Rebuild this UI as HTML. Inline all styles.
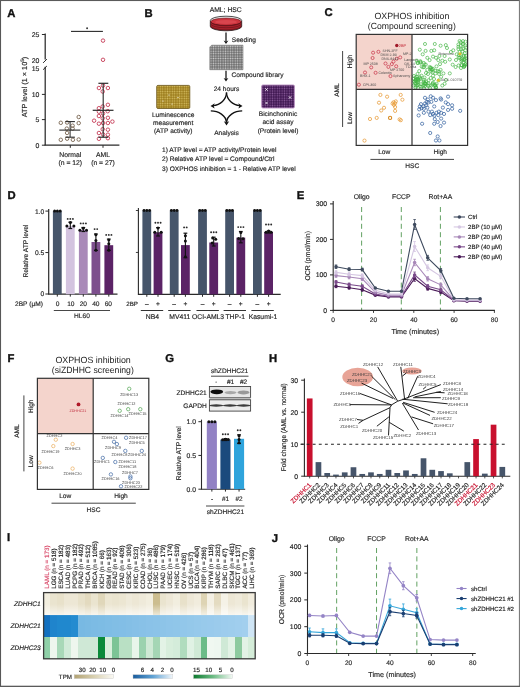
<!DOCTYPE html>
<html><head><meta charset="utf-8"><style>
html,body{margin:0;padding:0;background:#fff;}
svg{display:block;font-family:"Liberation Sans", sans-serif;will-change:transform;}
text{text-rendering:geometricPrecision;}
</style></head><body>
<svg width="520" height="687" viewBox="0 0 520 687">
<rect width="520" height="687" fill="#fff"/>
<text x="7.30" y="16.80" font-size="11.3" text-anchor="start" fill="#111" font-weight="bold" stroke="#111" stroke-width="0.35">A</text>
<line x1="45.20" y1="33.60" x2="45.20" y2="59.50" stroke="#2a2a2a" stroke-width="1.25"/>
<line x1="45.20" y1="66.80" x2="45.20" y2="145.20" stroke="#2a2a2a" stroke-width="1.25"/>
<line x1="43.10" y1="62.90" x2="46.90" y2="59.10" stroke="#2a2a2a" stroke-width="1.0"/>
<line x1="43.10" y1="69.70" x2="46.90" y2="66.00" stroke="#2a2a2a" stroke-width="1.0"/>
<line x1="41.90" y1="34.50" x2="45.20" y2="34.50" stroke="#2a2a2a" stroke-width="1.0"/>
<text x="39.30" y="36.90" font-size="6.9" text-anchor="end" fill="#262626" stroke="#262626" stroke-width="0.16">25</text>
<text x="39.30" y="63.20" font-size="6.9" text-anchor="end" fill="#262626" stroke="#262626" stroke-width="0.16">20</text>
<text x="39.30" y="71.10" font-size="6.9" text-anchor="end" fill="#262626" stroke="#262626" stroke-width="0.16">15</text>
<line x1="41.90" y1="94.40" x2="45.20" y2="94.40" stroke="#2a2a2a" stroke-width="1.0"/>
<text x="39.30" y="96.80" font-size="6.9" text-anchor="end" fill="#262626" stroke="#262626" stroke-width="0.16">10</text>
<line x1="41.90" y1="119.60" x2="45.20" y2="119.60" stroke="#2a2a2a" stroke-width="1.0"/>
<text x="39.30" y="122.00" font-size="6.9" text-anchor="end" fill="#262626" stroke="#262626" stroke-width="0.16">5</text>
<line x1="41.90" y1="145.20" x2="45.20" y2="145.20" stroke="#2a2a2a" stroke-width="1.0"/>
<text x="39.30" y="147.60" font-size="6.9" text-anchor="end" fill="#262626" stroke="#262626" stroke-width="0.16">0</text>
<line x1="44.60" y1="145.20" x2="119.40" y2="145.20" stroke="#2a2a2a" stroke-width="1.25"/>
<line x1="70.30" y1="145.20" x2="70.30" y2="147.80" stroke="#2a2a2a" stroke-width="1.0"/>
<line x1="103.00" y1="145.20" x2="103.00" y2="147.80" stroke="#2a2a2a" stroke-width="1.0"/>
<text x="70.30" y="157.30" font-size="6.8" text-anchor="middle" fill="#262626" stroke="#262626" stroke-width="0.16">Normal</text>
<text x="70.30" y="164.60" font-size="6.8" text-anchor="middle" fill="#262626" stroke="#262626" stroke-width="0.16">(n = 12)</text>
<text x="103.00" y="157.30" font-size="6.8" text-anchor="middle" fill="#262626" stroke="#262626" stroke-width="0.16">AML</text>
<text x="103.00" y="164.60" font-size="6.8" text-anchor="middle" fill="#262626" stroke="#262626" stroke-width="0.16">(n = 27)</text>
<text x="27.00" y="87.00" font-size="7.3" text-anchor="middle" fill="#262626" transform="rotate(-90 27.0 87.0)" stroke="#262626" stroke-width="0.16">ATP level (1 × 10<tspan font-size="4.8" dy="-2.8">5</tspan><tspan dy="2.8">)</tspan></text>
<line x1="71.00" y1="31.40" x2="102.90" y2="31.40" stroke="#2a2a2a" stroke-width="1.1"/>
<circle cx="87.10" cy="28.20" r="0.95" fill="#333" stroke="none" stroke-width="0.8"/>
<circle cx="78.70" cy="117.00" r="1.75" fill="none" stroke="#7e6c58" stroke-width="0.95"/>
<circle cx="60.80" cy="122.80" r="1.75" fill="none" stroke="#7e6c58" stroke-width="0.95"/>
<circle cx="78.70" cy="123.10" r="1.75" fill="none" stroke="#7e6c58" stroke-width="0.95"/>
<circle cx="67.10" cy="122.50" r="1.75" fill="none" stroke="#7e6c58" stroke-width="0.95"/>
<circle cx="72.60" cy="125.70" r="1.75" fill="none" stroke="#7e6c58" stroke-width="0.95"/>
<circle cx="66.80" cy="128.60" r="1.75" fill="none" stroke="#7e6c58" stroke-width="0.95"/>
<circle cx="72.60" cy="128.60" r="1.75" fill="none" stroke="#7e6c58" stroke-width="0.95"/>
<circle cx="67.10" cy="132.90" r="1.75" fill="none" stroke="#7e6c58" stroke-width="0.95"/>
<circle cx="60.80" cy="139.80" r="1.75" fill="none" stroke="#7e6c58" stroke-width="0.95"/>
<circle cx="67.10" cy="138.70" r="1.75" fill="none" stroke="#7e6c58" stroke-width="0.95"/>
<circle cx="72.90" cy="139.80" r="1.75" fill="none" stroke="#7e6c58" stroke-width="0.95"/>
<circle cx="78.70" cy="139.50" r="1.75" fill="none" stroke="#7e6c58" stroke-width="0.95"/>
<line x1="59.30" y1="130.10" x2="80.40" y2="130.10" stroke="#2a2a2a" stroke-width="1.1"/>
<line x1="70.10" y1="121.60" x2="70.10" y2="137.20" stroke="#2a2a2a" stroke-width="1"/>
<line x1="65.40" y1="121.60" x2="74.90" y2="121.60" stroke="#2a2a2a" stroke-width="1.1"/>
<line x1="65.40" y1="137.20" x2="74.90" y2="137.20" stroke="#2a2a2a" stroke-width="1.1"/>
<circle cx="103.00" cy="40.60" r="1.75" fill="none" stroke="#c8445e" stroke-width="0.95"/>
<circle cx="103.00" cy="59.80" r="1.75" fill="none" stroke="#c8445e" stroke-width="0.95"/>
<circle cx="98.90" cy="88.00" r="1.75" fill="none" stroke="#c8445e" stroke-width="0.95"/>
<circle cx="107.90" cy="88.00" r="1.75" fill="none" stroke="#c8445e" stroke-width="0.95"/>
<circle cx="103.00" cy="85.50" r="1.75" fill="none" stroke="#c8445e" stroke-width="0.95"/>
<circle cx="102.70" cy="91.50" r="1.75" fill="none" stroke="#c8445e" stroke-width="0.95"/>
<circle cx="107.90" cy="104.80" r="1.75" fill="none" stroke="#c8445e" stroke-width="0.95"/>
<circle cx="102.70" cy="106.50" r="1.75" fill="none" stroke="#c8445e" stroke-width="0.95"/>
<circle cx="98.90" cy="108.20" r="1.75" fill="none" stroke="#c8445e" stroke-width="0.95"/>
<circle cx="98.90" cy="111.70" r="1.75" fill="none" stroke="#c8445e" stroke-width="0.95"/>
<circle cx="107.70" cy="111.20" r="1.75" fill="none" stroke="#c8445e" stroke-width="0.95"/>
<circle cx="98.90" cy="116.00" r="1.75" fill="none" stroke="#c8445e" stroke-width="0.95"/>
<circle cx="102.70" cy="118.30" r="1.75" fill="none" stroke="#c8445e" stroke-width="0.95"/>
<circle cx="107.90" cy="117.80" r="1.75" fill="none" stroke="#c8445e" stroke-width="0.95"/>
<circle cx="94.10" cy="120.70" r="1.75" fill="none" stroke="#c8445e" stroke-width="0.95"/>
<circle cx="98.90" cy="123.70" r="1.75" fill="none" stroke="#c8445e" stroke-width="0.95"/>
<circle cx="103.10" cy="123.00" r="1.75" fill="none" stroke="#c8445e" stroke-width="0.95"/>
<circle cx="107.90" cy="123.00" r="1.75" fill="none" stroke="#c8445e" stroke-width="0.95"/>
<circle cx="112.40" cy="121.60" r="1.75" fill="none" stroke="#c8445e" stroke-width="0.95"/>
<circle cx="102.70" cy="129.20" r="1.75" fill="none" stroke="#c8445e" stroke-width="0.95"/>
<circle cx="107.90" cy="129.70" r="1.75" fill="none" stroke="#c8445e" stroke-width="0.95"/>
<circle cx="98.90" cy="133.00" r="1.75" fill="none" stroke="#c8445e" stroke-width="0.95"/>
<circle cx="103.10" cy="134.40" r="1.75" fill="none" stroke="#c8445e" stroke-width="0.95"/>
<circle cx="107.90" cy="134.70" r="1.75" fill="none" stroke="#c8445e" stroke-width="0.95"/>
<circle cx="98.90" cy="138.80" r="1.75" fill="none" stroke="#c8445e" stroke-width="0.95"/>
<circle cx="107.90" cy="138.20" r="1.75" fill="none" stroke="#c8445e" stroke-width="0.95"/>
<circle cx="103.00" cy="113.50" r="1.75" fill="none" stroke="#c8445e" stroke-width="0.95"/>
<line x1="92.70" y1="110.30" x2="113.50" y2="110.30" stroke="#2a2a2a" stroke-width="1.2"/>
<line x1="103.20" y1="83.30" x2="103.20" y2="137.20" stroke="#2a2a2a" stroke-width="1.1"/>
<line x1="98.40" y1="83.30" x2="108.30" y2="83.30" stroke="#2a2a2a" stroke-width="1.2"/>
<line x1="98.40" y1="137.20" x2="108.30" y2="137.20" stroke="#2a2a2a" stroke-width="1.2"/>
<text x="144.50" y="16.60" font-size="11.3" text-anchor="start" fill="#111" font-weight="bold" stroke="#111" stroke-width="0.35">B</text>
<text x="225.70" y="11.80" font-size="6.8" text-anchor="middle" fill="#262626" stroke="#262626" stroke-width="0.16">AML; HSC</text>
<path d="M210.3,21.2 L210.3,26.3 A15.7,4.5 0 0 0 241.7,26.3 L241.7,21.2 Z" fill="#a8222c" stroke="#222" stroke-width="0.8"/>
<ellipse cx="226" cy="20.5" rx="15.7" ry="4.3" fill="#f2f2f2" stroke="#222" stroke-width="0.8"/>
<ellipse cx="226" cy="21.7" rx="15.2" ry="3.7" fill="#cc343e" stroke="#4a0a10" stroke-width="0.5"/>
<ellipse cx="226" cy="21.9" rx="11" ry="2.0" fill="#dc4a52" opacity="0.8"/>
<path d="M210.6,21.8 A15.4,4.0 0 0 0 241.4,21.8" fill="none" stroke="#5a0c14" stroke-width="0.55"/>
<path d="M210.6,23.8 A15.4,4.0 0 0 0 241.4,23.8" fill="none" stroke="#5a0c14" stroke-width="0.55"/>
<path d="M210.6,25.8 A15.4,4.0 0 0 0 241.4,25.8" fill="none" stroke="#5a0c14" stroke-width="0.55"/>
<line x1="226.00" y1="32.40" x2="226.00" y2="41.50" stroke="#111" stroke-width="1.25"/>
<path d="M223.60,40.40 L226.00,41.40 L228.40,40.40 L226.00,44.00 Z" fill="#111"/>
<text x="231.80" y="41.80" font-size="6.6" text-anchor="start" fill="#262626" stroke="#262626" stroke-width="0.16">Seeding</text>
<defs><pattern id="dots" x="209.8" y="45.2" width="2.42" height="2.42" patternUnits="userSpaceOnUse"><rect width="2.42" height="2.42" fill="#6c6c6c"/><circle cx="1.21" cy="1.21" r="0.8" fill="#cfcfcf"/></pattern><pattern id="ydots" x="156.7" y="85.4" width="2.4" height="2.4" patternUnits="userSpaceOnUse"><rect width="2.4" height="2.4" fill="#9c7c1c"/><circle cx="1.2" cy="1.2" r="0.8" fill="#d6be62"/></pattern><pattern id="pdots" x="261.7" y="85" width="2.4" height="2.4" patternUnits="userSpaceOnUse"><rect width="2.4" height="2.4" fill="#3e1650"/><circle cx="1.2" cy="1.2" r="0.75" fill="#8a5a9a"/></pattern></defs>
<path d="M211.6,45.2 L243,45.2 L243,69.7 L209.8,69.7 L209.8,47 Z" fill="url(#dots)" stroke="#777" stroke-width="0.6"/>
<line x1="226.00" y1="70.80" x2="226.00" y2="79.00" stroke="#111" stroke-width="1.25"/>
<path d="M223.60,77.90 L226.00,78.90 L228.40,77.90 L226.00,81.50 Z" fill="#111"/>
<text x="231.50" y="77.20" font-size="6.6" text-anchor="start" fill="#262626" stroke="#262626" stroke-width="0.16">Compound library</text>
<text x="226.50" y="91.00" font-size="6.6" text-anchor="middle" fill="#262626" stroke="#262626" stroke-width="0.16">24 hours</text>
<rect x="156.7" y="85.4" width="33.1" height="23.1" rx="1.2" fill="url(#ydots)" stroke="#6a5418" stroke-width="0.8"/>
<circle cx="169.00" cy="95.00" r="0.6" fill="#fff" stroke="none" stroke-width="0.8"/>
<circle cx="178.00" cy="97.50" r="0.6" fill="#fff" stroke="none" stroke-width="0.8"/>
<circle cx="163.00" cy="101.00" r="0.6" fill="#fff" stroke="none" stroke-width="0.8"/>
<circle cx="172.00" cy="104.00" r="0.6" fill="#fff" stroke="none" stroke-width="0.8"/>
<text x="173.20" y="117.30" font-size="6.6" text-anchor="middle" fill="#262626" stroke="#262626" stroke-width="0.16">Luminescence</text>
<text x="173.20" y="125.00" font-size="6.6" text-anchor="middle" fill="#262626" stroke="#262626" stroke-width="0.16">measurement</text>
<text x="173.20" y="133.00" font-size="6.6" text-anchor="middle" fill="#262626" stroke="#262626" stroke-width="0.16">(ATP activity)</text>
<rect x="261.7" y="85" width="32.7" height="23" rx="1.2" fill="url(#pdots)" stroke="#b890c0" stroke-width="0.9"/>
<path d="M265.2,88.2 L267.8,90.8 M267.8,88.2 L265.2,90.8" stroke="#fff" stroke-width="0.7"/>
<path d="M288.7,96.2 L291.3,98.8 M291.3,96.2 L288.7,98.8" stroke="#fff" stroke-width="0.7"/>
<path d="M265.2,101.7 L267.8,104.3 M267.8,101.7 L265.2,104.3" stroke="#fff" stroke-width="0.7"/>
<text x="278.00" y="116.40" font-size="6.6" text-anchor="middle" fill="#262626" stroke="#262626" stroke-width="0.16">Bicinchoninic</text>
<text x="278.00" y="124.40" font-size="6.6" text-anchor="middle" fill="#262626" stroke="#262626" stroke-width="0.16">acid assay</text>
<text x="278.00" y="132.70" font-size="6.6" text-anchor="middle" fill="#262626" stroke="#262626" stroke-width="0.16">(Protein level)</text>
<path d="M226.5,92.6 C226.3,99.5 220.5,105.2 213,105.7" fill="none" stroke="#111" stroke-width="1.35"/>
<path d="M226.5,92.6 C226.7,99.5 232.5,105.2 240,105.7" fill="none" stroke="#111" stroke-width="1.35"/>
<path d="M210.8,110.9 C218.5,110.9 226.2,115.5 226.4,122.5" fill="none" stroke="#111" stroke-width="1.35"/>
<path d="M242.2,110.9 C234.5,110.9 226.8,115.5 226.6,122.5" fill="none" stroke="#111" stroke-width="1.35"/>
<path d="M210.5,106.0 L214.8,103.2 L213.6,105.8 L214.6,108.4 Z" fill="#111"/>
<path d="M242.5,106.0 L238.2,103.2 L239.4,105.8 L238.4,108.4 Z" fill="#111"/>
<path d="M226.5,125.6 L223.8,121.2 L226.5,122.4 L229.2,121.2 Z" fill="#111"/>
<text x="226.50" y="135.00" font-size="6.6" text-anchor="middle" fill="#262626" stroke="#262626" stroke-width="0.16">Analysis</text>
<text x="162.00" y="151.80" font-size="6.6" text-anchor="start" fill="#262626" stroke="#262626" stroke-width="0.16">1) ATP level = ATP activity/Protein level</text>
<text x="162.00" y="161.10" font-size="6.6" text-anchor="start" fill="#262626" stroke="#262626" stroke-width="0.16">2) Relative ATP level = Compound/Ctrl</text>
<text x="162.00" y="171.00" font-size="6.6" text-anchor="start" fill="#262626" stroke="#262626" stroke-width="0.16">3) OXPHOS inhibition = 1 - Relative ATP level</text>
<text x="324.60" y="16.40" font-size="11.3" text-anchor="start" fill="#111" font-weight="bold" stroke="#111" stroke-width="0.35">C</text>
<text x="411.90" y="18.70" font-size="9.0" text-anchor="middle" fill="#222" textLength="75" lengthAdjust="spacingAndGlyphs">OXPHOS inhibition</text>
<text x="411.80" y="28.90" font-size="9.0" text-anchor="middle" fill="#222" textLength="88" lengthAdjust="spacingAndGlyphs">(Compound screening)</text>
<rect x="356.20" y="34.40" width="55.80" height="55.00" fill="#f4d4cc"/>
<circle cx="373.10" cy="52.70" r="1.55" fill="none" stroke="#c8384c" stroke-width="0.75"/>
<circle cx="378.40" cy="51.80" r="1.55" fill="none" stroke="#c8384c" stroke-width="0.75"/>
<circle cx="372.60" cy="58.00" r="1.55" fill="none" stroke="#c8384c" stroke-width="0.75"/>
<circle cx="396.80" cy="58.70" r="1.55" fill="none" stroke="#c8384c" stroke-width="0.75"/>
<circle cx="400.20" cy="57.40" r="1.55" fill="none" stroke="#c8384c" stroke-width="0.75"/>
<circle cx="371.20" cy="67.40" r="1.55" fill="none" stroke="#c8384c" stroke-width="0.75"/>
<circle cx="391.80" cy="64.10" r="1.55" fill="none" stroke="#c8384c" stroke-width="0.75"/>
<circle cx="388.40" cy="66.90" r="1.55" fill="none" stroke="#c8384c" stroke-width="0.75"/>
<circle cx="396.20" cy="66.30" r="1.55" fill="none" stroke="#c8384c" stroke-width="0.75"/>
<circle cx="365.00" cy="72.50" r="1.55" fill="none" stroke="#c8384c" stroke-width="0.75"/>
<circle cx="375.60" cy="72.80" r="1.55" fill="none" stroke="#c8384c" stroke-width="0.75"/>
<circle cx="390.50" cy="76.10" r="1.55" fill="none" stroke="#c8384c" stroke-width="0.75"/>
<circle cx="358.90" cy="84.70" r="1.55" fill="none" stroke="#c8384c" stroke-width="0.75"/>
<circle cx="385.50" cy="63.50" r="1.55" fill="none" stroke="#c8384c" stroke-width="0.75"/>
<circle cx="393.50" cy="61.50" r="1.55" fill="none" stroke="#c8384c" stroke-width="0.75"/>
<circle cx="396.80" cy="45.50" r="1.7" fill="#a01828" stroke="none" stroke-width="0.8"/>
<text x="398.80" y="47.40" font-size="3.9" text-anchor="start" fill="#c02030">2BP</text>
<text x="382.50" y="52.00" font-size="3.6" text-anchor="start" fill="#484848">SHN-2FF</text>
<text x="380.50" y="56.30" font-size="3.6" text-anchor="start" fill="#484848">DKM 2-93</text>
<text x="381.50" y="60.30" font-size="3.6" text-anchor="start" fill="#484848">DNS-8441</text>
<text x="403.00" y="54.50" font-size="3.6" text-anchor="start" fill="#484848">MP-2</text>
<text x="363.50" y="64.50" font-size="3.6" text-anchor="start" fill="#484848">MP 2508</text>
<text x="404.30" y="61.00" font-size="3.6" text-anchor="start" fill="#484848">Lanperis</text>
<text x="404.30" y="64.50" font-size="3.6" text-anchor="start" fill="#484848">GK-14</text>
<text x="405.50" y="68.20" font-size="3.6" text-anchor="start" fill="#484848">TO-Ha</text>
<text x="390.00" y="71.00" font-size="3.6" text-anchor="start" fill="#484848">MP 2700</text>
<text x="360.00" y="77.00" font-size="3.6" text-anchor="start" fill="#484848">BHX-1</text>
<text x="378.50" y="74.20" font-size="3.6" text-anchor="start" fill="#484848">Colentin</text>
<text x="393.00" y="77.30" font-size="3.6" text-anchor="start" fill="#484848">Sphanomy</text>
<text x="363.00" y="86.40" font-size="3.6" text-anchor="start" fill="#484848">CPI-360</text>
<circle cx="425.00" cy="44.00" r="1.55" fill="none" stroke="#46b646" stroke-width="0.68"/>
<circle cx="434.80" cy="44.00" r="1.55" fill="none" stroke="#46b646" stroke-width="0.68"/>
<circle cx="440.60" cy="45.70" r="1.55" fill="none" stroke="#46b646" stroke-width="0.68"/>
<circle cx="445.80" cy="45.10" r="1.55" fill="none" stroke="#46b646" stroke-width="0.68"/>
<circle cx="447.00" cy="48.00" r="1.55" fill="none" stroke="#46b646" stroke-width="0.68"/>
<circle cx="419.80" cy="49.70" r="1.55" fill="none" stroke="#46b646" stroke-width="0.68"/>
<circle cx="425.60" cy="50.90" r="1.55" fill="none" stroke="#46b646" stroke-width="0.68"/>
<circle cx="431.30" cy="50.90" r="1.55" fill="none" stroke="#46b646" stroke-width="0.68"/>
<circle cx="434.20" cy="50.30" r="1.55" fill="none" stroke="#46b646" stroke-width="0.68"/>
<circle cx="422.70" cy="54.30" r="1.55" fill="none" stroke="#46b646" stroke-width="0.68"/>
<circle cx="427.30" cy="57.80" r="1.55" fill="none" stroke="#46b646" stroke-width="0.68"/>
<circle cx="429.60" cy="60.10" r="1.55" fill="none" stroke="#46b646" stroke-width="0.68"/>
<circle cx="416.90" cy="60.70" r="1.55" fill="none" stroke="#46b646" stroke-width="0.68"/>
<circle cx="420.40" cy="61.20" r="1.55" fill="none" stroke="#46b646" stroke-width="0.68"/>
<circle cx="423.80" cy="63.00" r="1.55" fill="none" stroke="#46b646" stroke-width="0.68"/>
<circle cx="433.00" cy="56.60" r="1.55" fill="none" stroke="#46b646" stroke-width="0.68"/>
<circle cx="436.00" cy="57.80" r="1.55" fill="none" stroke="#46b646" stroke-width="0.68"/>
<circle cx="439.40" cy="56.00" r="1.55" fill="none" stroke="#46b646" stroke-width="0.68"/>
<circle cx="444.60" cy="56.00" r="1.55" fill="none" stroke="#46b646" stroke-width="0.68"/>
<circle cx="438.30" cy="60.10" r="1.55" fill="none" stroke="#46b646" stroke-width="0.68"/>
<circle cx="442.30" cy="60.70" r="1.55" fill="none" stroke="#46b646" stroke-width="0.68"/>
<circle cx="445.20" cy="61.80" r="1.55" fill="none" stroke="#46b646" stroke-width="0.68"/>
<circle cx="449.80" cy="59.50" r="1.55" fill="none" stroke="#46b646" stroke-width="0.68"/>
<circle cx="450.90" cy="52.00" r="1.55" fill="none" stroke="#46b646" stroke-width="0.68"/>
<circle cx="452.70" cy="64.70" r="1.55" fill="none" stroke="#46b646" stroke-width="0.68"/>
<circle cx="455.60" cy="67.00" r="1.55" fill="none" stroke="#46b646" stroke-width="0.68"/>
<circle cx="440.00" cy="64.10" r="1.55" fill="none" stroke="#46b646" stroke-width="0.68"/>
<circle cx="436.50" cy="66.40" r="1.55" fill="none" stroke="#46b646" stroke-width="0.68"/>
<circle cx="433.00" cy="68.80" r="1.55" fill="none" stroke="#46b646" stroke-width="0.68"/>
<circle cx="429.60" cy="67.00" r="1.55" fill="none" stroke="#46b646" stroke-width="0.68"/>
<circle cx="427.30" cy="69.90" r="1.55" fill="none" stroke="#46b646" stroke-width="0.68"/>
<circle cx="449.80" cy="73.40" r="1.55" fill="none" stroke="#46b646" stroke-width="0.68"/>
<circle cx="419.20" cy="71.10" r="1.55" fill="none" stroke="#46b646" stroke-width="0.68"/>
<circle cx="421.50" cy="75.70" r="1.55" fill="none" stroke="#46b646" stroke-width="0.68"/>
<circle cx="416.90" cy="79.20" r="1.55" fill="none" stroke="#46b646" stroke-width="0.68"/>
<circle cx="414.60" cy="81.50" r="1.55" fill="none" stroke="#46b646" stroke-width="0.68"/>
<circle cx="418.00" cy="82.60" r="1.55" fill="none" stroke="#46b646" stroke-width="0.68"/>
<circle cx="421.00" cy="84.30" r="1.55" fill="none" stroke="#46b646" stroke-width="0.68"/>
<circle cx="423.80" cy="81.50" r="1.55" fill="none" stroke="#46b646" stroke-width="0.68"/>
<circle cx="426.10" cy="83.80" r="1.55" fill="none" stroke="#46b646" stroke-width="0.68"/>
<circle cx="428.50" cy="80.30" r="1.55" fill="none" stroke="#46b646" stroke-width="0.68"/>
<circle cx="430.70" cy="78.00" r="1.55" fill="none" stroke="#46b646" stroke-width="0.68"/>
<circle cx="433.00" cy="75.70" r="1.55" fill="none" stroke="#46b646" stroke-width="0.68"/>
<circle cx="435.40" cy="73.40" r="1.55" fill="none" stroke="#46b646" stroke-width="0.68"/>
<circle cx="437.70" cy="71.10" r="1.55" fill="none" stroke="#46b646" stroke-width="0.68"/>
<circle cx="440.60" cy="69.90" r="1.55" fill="none" stroke="#46b646" stroke-width="0.68"/>
<circle cx="443.40" cy="73.40" r="1.55" fill="none" stroke="#46b646" stroke-width="0.68"/>
<circle cx="441.10" cy="76.80" r="1.55" fill="none" stroke="#46b646" stroke-width="0.68"/>
<circle cx="438.80" cy="80.30" r="1.55" fill="none" stroke="#46b646" stroke-width="0.68"/>
<circle cx="436.50" cy="83.80" r="1.55" fill="none" stroke="#46b646" stroke-width="0.68"/>
<circle cx="433.00" cy="82.60" r="1.55" fill="none" stroke="#46b646" stroke-width="0.68"/>
<circle cx="431.30" cy="85.50" r="1.55" fill="none" stroke="#46b646" stroke-width="0.68"/>
<circle cx="428.50" cy="86.10" r="1.55" fill="none" stroke="#46b646" stroke-width="0.68"/>
<circle cx="425.00" cy="86.10" r="1.55" fill="none" stroke="#46b646" stroke-width="0.68"/>
<circle cx="421.50" cy="86.60" r="1.55" fill="none" stroke="#46b646" stroke-width="0.68"/>
<circle cx="416.90" cy="85.50" r="1.55" fill="none" stroke="#46b646" stroke-width="0.68"/>
<circle cx="442.30" cy="85.50" r="1.55" fill="none" stroke="#46b646" stroke-width="0.68"/>
<circle cx="444.60" cy="83.80" r="1.55" fill="none" stroke="#46b646" stroke-width="0.68"/>
<circle cx="414.00" cy="76.00" r="1.55" fill="none" stroke="#46b646" stroke-width="0.68"/>
<circle cx="417.50" cy="74.00" r="1.55" fill="none" stroke="#46b646" stroke-width="0.68"/>
<circle cx="420.00" cy="78.50" r="1.55" fill="none" stroke="#46b646" stroke-width="0.68"/>
<circle cx="424.50" cy="77.50" r="1.55" fill="none" stroke="#46b646" stroke-width="0.68"/>
<circle cx="428.00" cy="74.00" r="1.55" fill="none" stroke="#46b646" stroke-width="0.68"/>
<circle cx="431.00" cy="71.50" r="1.55" fill="none" stroke="#46b646" stroke-width="0.68"/>
<circle cx="413.50" cy="85.50" r="1.55" fill="none" stroke="#46b646" stroke-width="0.68"/>
<circle cx="426.00" cy="73.00" r="1.55" fill="none" stroke="#46b646" stroke-width="0.68"/>
<circle cx="434.00" cy="79.00" r="1.55" fill="none" stroke="#46b646" stroke-width="0.68"/>
<circle cx="446.00" cy="80.00" r="1.55" fill="none" stroke="#46b646" stroke-width="0.68"/>
<circle cx="424.00" cy="88.00" r="1.55" fill="none" stroke="#46b646" stroke-width="0.68"/>
<circle cx="418.00" cy="88.00" r="1.55" fill="none" stroke="#46b646" stroke-width="0.68"/>
<circle cx="430.00" cy="88.00" r="1.55" fill="none" stroke="#46b646" stroke-width="0.68"/>
<circle cx="436.00" cy="87.50" r="1.55" fill="none" stroke="#46b646" stroke-width="0.68"/>
<circle cx="458.40" cy="44.50" r="1.55" fill="none" stroke="#46b646" stroke-width="0.68"/>
<circle cx="460.70" cy="42.20" r="1.55" fill="none" stroke="#46b646" stroke-width="0.68"/>
<circle cx="463.00" cy="41.10" r="1.55" fill="none" stroke="#46b646" stroke-width="0.68"/>
<circle cx="465.40" cy="41.70" r="1.55" fill="none" stroke="#46b646" stroke-width="0.68"/>
<circle cx="458.40" cy="46.80" r="1.55" fill="none" stroke="#46b646" stroke-width="0.68"/>
<circle cx="460.70" cy="45.70" r="1.55" fill="none" stroke="#46b646" stroke-width="0.68"/>
<circle cx="463.00" cy="44.50" r="1.55" fill="none" stroke="#46b646" stroke-width="0.68"/>
<circle cx="465.40" cy="45.70" r="1.55" fill="none" stroke="#46b646" stroke-width="0.68"/>
<circle cx="458.40" cy="49.10" r="1.55" fill="none" stroke="#46b646" stroke-width="0.68"/>
<circle cx="461.30" cy="49.10" r="1.55" fill="none" stroke="#46b646" stroke-width="0.68"/>
<circle cx="463.00" cy="48.60" r="1.55" fill="none" stroke="#46b646" stroke-width="0.68"/>
<circle cx="465.40" cy="50.30" r="1.55" fill="none" stroke="#46b646" stroke-width="0.68"/>
<circle cx="459.60" cy="52.00" r="1.55" fill="none" stroke="#46b646" stroke-width="0.68"/>
<circle cx="462.40" cy="51.50" r="1.55" fill="none" stroke="#46b646" stroke-width="0.68"/>
<circle cx="464.80" cy="53.20" r="1.55" fill="none" stroke="#46b646" stroke-width="0.68"/>
<circle cx="460.70" cy="54.90" r="1.55" fill="none" stroke="#46b646" stroke-width="0.68"/>
<circle cx="463.60" cy="55.50" r="1.55" fill="none" stroke="#46b646" stroke-width="0.68"/>
<circle cx="465.90" cy="56.00" r="1.55" fill="none" stroke="#46b646" stroke-width="0.68"/>
<circle cx="459.60" cy="57.80" r="1.55" fill="none" stroke="#46b646" stroke-width="0.68"/>
<circle cx="462.40" cy="58.40" r="1.55" fill="none" stroke="#46b646" stroke-width="0.68"/>
<circle cx="464.80" cy="59.50" r="1.55" fill="none" stroke="#46b646" stroke-width="0.68"/>
<circle cx="461.30" cy="61.20" r="1.55" fill="none" stroke="#46b646" stroke-width="0.68"/>
<circle cx="463.60" cy="62.40" r="1.55" fill="none" stroke="#46b646" stroke-width="0.68"/>
<circle cx="465.40" cy="64.10" r="1.55" fill="none" stroke="#46b646" stroke-width="0.68"/>
<circle cx="461.90" cy="65.30" r="1.55" fill="none" stroke="#46b646" stroke-width="0.68"/>
<circle cx="464.20" cy="66.40" r="1.55" fill="none" stroke="#46b646" stroke-width="0.68"/>
<circle cx="453.30" cy="50.30" r="1.55" fill="none" stroke="#46b646" stroke-width="0.68"/>
<circle cx="456.70" cy="54.30" r="1.55" fill="none" stroke="#46b646" stroke-width="0.68"/>
<circle cx="456.00" cy="60.00" r="1.55" fill="none" stroke="#46b646" stroke-width="0.68"/>
<circle cx="466.00" cy="47.50" r="1.55" fill="none" stroke="#46b646" stroke-width="0.68"/>
<circle cx="466.00" cy="60.50" r="1.55" fill="none" stroke="#46b646" stroke-width="0.68"/>
<circle cx="423.68" cy="82.71" r="1.55" fill="none" stroke="#46b646" stroke-width="0.68"/>
<circle cx="424.93" cy="83.02" r="1.55" fill="none" stroke="#46b646" stroke-width="0.68"/>
<circle cx="417.65" cy="82.18" r="1.55" fill="none" stroke="#46b646" stroke-width="0.68"/>
<circle cx="427.67" cy="85.30" r="1.55" fill="none" stroke="#46b646" stroke-width="0.68"/>
<circle cx="415.62" cy="79.87" r="1.55" fill="none" stroke="#46b646" stroke-width="0.68"/>
<circle cx="415.54" cy="85.49" r="1.55" fill="none" stroke="#46b646" stroke-width="0.68"/>
<circle cx="435.60" cy="87.21" r="1.55" fill="none" stroke="#46b646" stroke-width="0.68"/>
<circle cx="428.21" cy="83.33" r="1.55" fill="none" stroke="#46b646" stroke-width="0.68"/>
<circle cx="417.04" cy="76.67" r="1.55" fill="none" stroke="#46b646" stroke-width="0.68"/>
<circle cx="417.78" cy="79.19" r="1.55" fill="none" stroke="#46b646" stroke-width="0.68"/>
<circle cx="414.18" cy="81.65" r="1.55" fill="none" stroke="#46b646" stroke-width="0.68"/>
<circle cx="423.41" cy="85.85" r="1.55" fill="none" stroke="#46b646" stroke-width="0.68"/>
<circle cx="425.18" cy="83.61" r="1.55" fill="none" stroke="#46b646" stroke-width="0.68"/>
<circle cx="424.74" cy="83.85" r="1.55" fill="none" stroke="#46b646" stroke-width="0.68"/>
<circle cx="423.79" cy="79.59" r="1.55" fill="none" stroke="#46b646" stroke-width="0.68"/>
<circle cx="435.95" cy="87.55" r="1.55" fill="none" stroke="#46b646" stroke-width="0.68"/>
<circle cx="432.40" cy="84.36" r="1.55" fill="none" stroke="#46b646" stroke-width="0.68"/>
<circle cx="420.59" cy="79.05" r="1.55" fill="none" stroke="#46b646" stroke-width="0.68"/>
<circle cx="420.00" cy="77.28" r="1.55" fill="none" stroke="#46b646" stroke-width="0.68"/>
<circle cx="435.06" cy="85.91" r="1.55" fill="none" stroke="#46b646" stroke-width="0.68"/>
<circle cx="413.51" cy="78.83" r="1.55" fill="none" stroke="#46b646" stroke-width="0.68"/>
<circle cx="415.14" cy="83.49" r="1.55" fill="none" stroke="#46b646" stroke-width="0.68"/>
<circle cx="415.46" cy="80.19" r="1.55" fill="none" stroke="#46b646" stroke-width="0.68"/>
<circle cx="435.19" cy="84.91" r="1.55" fill="none" stroke="#46b646" stroke-width="0.68"/>
<circle cx="416.15" cy="79.23" r="1.55" fill="none" stroke="#46b646" stroke-width="0.68"/>
<circle cx="415.77" cy="77.16" r="1.55" fill="none" stroke="#46b646" stroke-width="0.68"/>
<circle cx="426.08" cy="81.47" r="1.55" fill="none" stroke="#46b646" stroke-width="0.68"/>
<circle cx="417.79" cy="84.62" r="1.55" fill="none" stroke="#46b646" stroke-width="0.68"/>
<circle cx="416.45" cy="83.65" r="1.55" fill="none" stroke="#46b646" stroke-width="0.68"/>
<circle cx="416.12" cy="81.17" r="1.55" fill="none" stroke="#46b646" stroke-width="0.68"/>
<circle cx="418.29" cy="79.49" r="1.55" fill="none" stroke="#46b646" stroke-width="0.68"/>
<circle cx="435.35" cy="85.42" r="1.55" fill="none" stroke="#46b646" stroke-width="0.68"/>
<circle cx="420.34" cy="86.32" r="1.55" fill="none" stroke="#46b646" stroke-width="0.68"/>
<circle cx="418.24" cy="80.88" r="1.55" fill="none" stroke="#46b646" stroke-width="0.68"/>
<circle cx="432.72" cy="83.62" r="1.55" fill="none" stroke="#46b646" stroke-width="0.68"/>
<circle cx="415.76" cy="87.48" r="1.55" fill="none" stroke="#46b646" stroke-width="0.68"/>
<circle cx="421.72" cy="66.71" r="1.55" fill="none" stroke="#46b646" stroke-width="0.68"/>
<circle cx="424.42" cy="64.49" r="1.55" fill="none" stroke="#46b646" stroke-width="0.68"/>
<circle cx="420.31" cy="62.71" r="1.55" fill="none" stroke="#46b646" stroke-width="0.68"/>
<circle cx="430.72" cy="69.38" r="1.55" fill="none" stroke="#46b646" stroke-width="0.68"/>
<circle cx="439.04" cy="73.92" r="1.55" fill="none" stroke="#46b646" stroke-width="0.68"/>
<circle cx="435.79" cy="70.80" r="1.55" fill="none" stroke="#46b646" stroke-width="0.68"/>
<circle cx="439.26" cy="71.74" r="1.55" fill="none" stroke="#46b646" stroke-width="0.68"/>
<circle cx="423.13" cy="67.29" r="1.55" fill="none" stroke="#46b646" stroke-width="0.68"/>
<circle cx="424.13" cy="67.07" r="1.55" fill="none" stroke="#46b646" stroke-width="0.68"/>
<circle cx="430.96" cy="67.66" r="1.55" fill="none" stroke="#46b646" stroke-width="0.68"/>
<circle cx="420.70" cy="62.12" r="1.55" fill="none" stroke="#46b646" stroke-width="0.68"/>
<circle cx="432.53" cy="72.37" r="1.55" fill="none" stroke="#46b646" stroke-width="0.68"/>
<circle cx="430.30" cy="67.94" r="1.55" fill="none" stroke="#46b646" stroke-width="0.68"/>
<circle cx="432.12" cy="69.57" r="1.55" fill="none" stroke="#46b646" stroke-width="0.68"/>
<circle cx="431.72" cy="69.72" r="1.55" fill="none" stroke="#46b646" stroke-width="0.68"/>
<circle cx="425.83" cy="64.60" r="1.55" fill="none" stroke="#46b646" stroke-width="0.68"/>
<circle cx="417.44" cy="62.91" r="1.55" fill="none" stroke="#46b646" stroke-width="0.68"/>
<circle cx="418.04" cy="63.01" r="1.55" fill="none" stroke="#46b646" stroke-width="0.68"/>
<circle cx="462.96" cy="43.68" r="1.55" fill="none" stroke="#46b646" stroke-width="0.68"/>
<circle cx="461.32" cy="64.95" r="1.55" fill="none" stroke="#46b646" stroke-width="0.68"/>
<circle cx="466.15" cy="58.39" r="1.55" fill="none" stroke="#46b646" stroke-width="0.68"/>
<circle cx="463.89" cy="56.36" r="1.55" fill="none" stroke="#46b646" stroke-width="0.68"/>
<circle cx="459.59" cy="40.98" r="1.55" fill="none" stroke="#46b646" stroke-width="0.68"/>
<circle cx="458.64" cy="65.49" r="1.55" fill="none" stroke="#46b646" stroke-width="0.68"/>
<circle cx="463.97" cy="66.96" r="1.55" fill="none" stroke="#46b646" stroke-width="0.68"/>
<circle cx="458.67" cy="57.81" r="1.55" fill="none" stroke="#46b646" stroke-width="0.68"/>
<circle cx="462.26" cy="60.45" r="1.55" fill="none" stroke="#46b646" stroke-width="0.68"/>
<circle cx="460.99" cy="67.98" r="1.55" fill="none" stroke="#46b646" stroke-width="0.68"/>
<circle cx="459.09" cy="55.29" r="1.55" fill="none" stroke="#46b646" stroke-width="0.68"/>
<circle cx="464.25" cy="65.21" r="1.55" fill="none" stroke="#46b646" stroke-width="0.68"/>
<circle cx="464.25" cy="59.70" r="1.55" fill="none" stroke="#46b646" stroke-width="0.68"/>
<circle cx="464.69" cy="65.62" r="1.55" fill="none" stroke="#46b646" stroke-width="0.68"/>
<circle cx="461.24" cy="59.18" r="1.55" fill="none" stroke="#46b646" stroke-width="0.68"/>
<circle cx="465.53" cy="64.39" r="1.55" fill="none" stroke="#46b646" stroke-width="0.68"/>
<circle cx="460.00" cy="53.80" r="1.5" fill="#d8c030" stroke="none" stroke-width="0.8"/>
<circle cx="438.30" cy="80.30" r="1.5" fill="#d8c030" stroke="none" stroke-width="0.8"/>
<text x="438.50" y="55.00" font-size="3.6" text-anchor="start" fill="#555">Rotenone</text>
<text x="440.80" y="81.40" font-size="3.6" text-anchor="start" fill="#555">IACS-010759</text>
<circle cx="380.40" cy="94.90" r="1.6" fill="none" stroke="#e8a040" stroke-width="0.8"/>
<circle cx="387.10" cy="96.70" r="1.6" fill="none" stroke="#e8a040" stroke-width="0.8"/>
<circle cx="400.70" cy="94.90" r="1.6" fill="none" stroke="#e8a040" stroke-width="0.8"/>
<circle cx="402.40" cy="99.70" r="1.6" fill="none" stroke="#e8a040" stroke-width="0.8"/>
<circle cx="379.00" cy="102.70" r="1.6" fill="none" stroke="#e8a040" stroke-width="0.8"/>
<circle cx="393.50" cy="102.30" r="1.6" fill="none" stroke="#e8a040" stroke-width="0.8"/>
<circle cx="395.10" cy="103.20" r="1.6" fill="none" stroke="#e8a040" stroke-width="0.8"/>
<circle cx="394.00" cy="104.90" r="1.6" fill="none" stroke="#e8a040" stroke-width="0.8"/>
<circle cx="392.60" cy="103.60" r="1.6" fill="none" stroke="#e8a040" stroke-width="0.8"/>
<circle cx="395.80" cy="101.40" r="1.6" fill="none" stroke="#e8a040" stroke-width="0.8"/>
<circle cx="395.10" cy="107.00" r="1.6" fill="none" stroke="#e8a040" stroke-width="0.8"/>
<circle cx="384.00" cy="107.80" r="1.6" fill="none" stroke="#e8a040" stroke-width="0.8"/>
<circle cx="381.20" cy="110.50" r="1.6" fill="none" stroke="#e8a040" stroke-width="0.8"/>
<circle cx="395.10" cy="110.90" r="1.6" fill="none" stroke="#e8a040" stroke-width="0.8"/>
<circle cx="370.00" cy="119.00" r="1.6" fill="none" stroke="#e8a040" stroke-width="0.8"/>
<circle cx="376.70" cy="117.90" r="1.6" fill="none" stroke="#e8a040" stroke-width="0.8"/>
<circle cx="399.60" cy="119.40" r="1.6" fill="none" stroke="#e8a040" stroke-width="0.8"/>
<circle cx="400.80" cy="120.20" r="1.6" fill="none" stroke="#e8a040" stroke-width="0.8"/>
<circle cx="364.50" cy="140.60" r="1.6" fill="none" stroke="#e8a040" stroke-width="0.8"/>
<circle cx="390.10" cy="117.90" r="1.6" fill="none" stroke="#d88a20" stroke-width="1.1"/>
<circle cx="424.99" cy="97.80" r="1.6" fill="none" stroke="#3a66a2" stroke-width="0.75"/>
<circle cx="430.76" cy="96.30" r="1.6" fill="none" stroke="#3a66a2" stroke-width="0.75"/>
<circle cx="427.88" cy="99.53" r="1.6" fill="none" stroke="#3a66a2" stroke-width="0.75"/>
<circle cx="426.72" cy="101.84" r="1.6" fill="none" stroke="#3a66a2" stroke-width="0.75"/>
<circle cx="431.34" cy="101.84" r="1.6" fill="none" stroke="#3a66a2" stroke-width="0.75"/>
<circle cx="435.95" cy="100.11" r="1.6" fill="none" stroke="#3a66a2" stroke-width="0.75"/>
<circle cx="440.57" cy="98.38" r="1.6" fill="none" stroke="#3a66a2" stroke-width="0.75"/>
<circle cx="441.14" cy="99.53" r="1.6" fill="none" stroke="#3a66a2" stroke-width="0.75"/>
<circle cx="448.06" cy="96.65" r="1.6" fill="none" stroke="#3a66a2" stroke-width="0.75"/>
<circle cx="420.96" cy="104.15" r="1.6" fill="none" stroke="#3a66a2" stroke-width="0.75"/>
<circle cx="419.80" cy="106.45" r="1.6" fill="none" stroke="#3a66a2" stroke-width="0.75"/>
<circle cx="419.23" cy="109.34" r="1.6" fill="none" stroke="#3a66a2" stroke-width="0.75"/>
<circle cx="426.15" cy="105.30" r="1.6" fill="none" stroke="#3a66a2" stroke-width="0.75"/>
<circle cx="427.30" cy="107.61" r="1.6" fill="none" stroke="#3a66a2" stroke-width="0.75"/>
<circle cx="434.22" cy="106.45" r="1.6" fill="none" stroke="#3a66a2" stroke-width="0.75"/>
<circle cx="442.87" cy="107.61" r="1.6" fill="none" stroke="#3a66a2" stroke-width="0.75"/>
<circle cx="445.76" cy="102.42" r="1.6" fill="none" stroke="#3a66a2" stroke-width="0.75"/>
<circle cx="448.06" cy="104.15" r="1.6" fill="none" stroke="#3a66a2" stroke-width="0.75"/>
<circle cx="452.10" cy="105.30" r="1.6" fill="none" stroke="#3a66a2" stroke-width="0.75"/>
<circle cx="452.10" cy="108.76" r="1.6" fill="none" stroke="#3a66a2" stroke-width="0.75"/>
<circle cx="448.06" cy="109.91" r="1.6" fill="none" stroke="#3a66a2" stroke-width="0.75"/>
<circle cx="460.17" cy="110.84" r="1.6" fill="none" stroke="#3a66a2" stroke-width="0.75"/>
<circle cx="418.65" cy="115.45" r="1.6" fill="none" stroke="#3a66a2" stroke-width="0.75"/>
<circle cx="423.84" cy="112.80" r="1.6" fill="none" stroke="#3a66a2" stroke-width="0.75"/>
<circle cx="428.45" cy="111.64" r="1.6" fill="none" stroke="#3a66a2" stroke-width="0.75"/>
<circle cx="431.91" cy="111.64" r="1.6" fill="none" stroke="#3a66a2" stroke-width="0.75"/>
<circle cx="430.18" cy="115.10" r="1.6" fill="none" stroke="#3a66a2" stroke-width="0.75"/>
<circle cx="434.22" cy="115.68" r="1.6" fill="none" stroke="#3a66a2" stroke-width="0.75"/>
<circle cx="438.84" cy="111.64" r="1.6" fill="none" stroke="#3a66a2" stroke-width="0.75"/>
<circle cx="441.14" cy="112.80" r="1.6" fill="none" stroke="#3a66a2" stroke-width="0.75"/>
<circle cx="444.03" cy="113.95" r="1.6" fill="none" stroke="#3a66a2" stroke-width="0.75"/>
<circle cx="438.26" cy="115.10" r="1.6" fill="none" stroke="#3a66a2" stroke-width="0.75"/>
<circle cx="441.14" cy="118.57" r="1.6" fill="none" stroke="#3a66a2" stroke-width="0.75"/>
<circle cx="434.80" cy="119.14" r="1.6" fill="none" stroke="#3a66a2" stroke-width="0.75"/>
<circle cx="437.68" cy="122.03" r="1.6" fill="none" stroke="#3a66a2" stroke-width="0.75"/>
<circle cx="434.22" cy="123.76" r="1.6" fill="none" stroke="#3a66a2" stroke-width="0.75"/>
<circle cx="444.03" cy="122.60" r="1.6" fill="none" stroke="#3a66a2" stroke-width="0.75"/>
<circle cx="440.57" cy="126.06" r="1.6" fill="none" stroke="#3a66a2" stroke-width="0.75"/>
<circle cx="422.11" cy="123.76" r="1.6" fill="none" stroke="#3a66a2" stroke-width="0.75"/>
<circle cx="430.18" cy="132.98" r="1.6" fill="none" stroke="#3a66a2" stroke-width="0.75"/>
<circle cx="437.68" cy="136.44" r="1.6" fill="none" stroke="#3a66a2" stroke-width="0.75"/>
<circle cx="435.95" cy="140.48" r="1.6" fill="none" stroke="#3a66a2" stroke-width="0.75"/>
<circle cx="439.41" cy="140.48" r="1.6" fill="none" stroke="#3a66a2" stroke-width="0.75"/>
<circle cx="421.53" cy="108.18" r="1.6" fill="none" stroke="#3a66a2" stroke-width="0.75"/>
<circle cx="423.84" cy="108.76" r="1.6" fill="none" stroke="#3a66a2" stroke-width="0.75"/>
<circle cx="433.07" cy="97.80" r="1.6" fill="none" stroke="#3a66a2" stroke-width="0.75"/>
<circle cx="428.45" cy="102.42" r="1.6" fill="none" stroke="#3a66a2" stroke-width="0.75"/>
<circle cx="424.99" cy="103.57" r="1.6" fill="none" stroke="#3a66a2" stroke-width="0.75"/>
<circle cx="423.26" cy="106.45" r="1.6" fill="none" stroke="#3a66a2" stroke-width="0.75"/>
<circle cx="436.53" cy="112.80" r="1.6" fill="none" stroke="#3a66a2" stroke-width="0.75"/>
<circle cx="433.07" cy="113.95" r="1.6" fill="none" stroke="#3a66a2" stroke-width="0.75"/>
<rect x="356.2" y="34.4" width="111.40" height="111.00" fill="none" stroke="#333" stroke-width="1.2"/>
<line x1="412.00" y1="34.40" x2="412.00" y2="145.40" stroke="#333" stroke-width="1.2"/>
<line x1="356.20" y1="89.40" x2="467.60" y2="89.40" stroke="#333" stroke-width="1.2"/>
<line x1="342.60" y1="51.00" x2="342.60" y2="127.00" stroke="#444" stroke-width="1"/>
<text x="352.20" y="61.50" font-size="6.6" text-anchor="middle" fill="#262626" transform="rotate(-90 352.2 61.5)" stroke="#262626" stroke-width="0.16">High</text>
<text x="352.20" y="118.00" font-size="6.6" text-anchor="middle" fill="#262626" transform="rotate(-90 352.2 118)" stroke="#262626" stroke-width="0.16">Low</text>
<text x="338.60" y="90.00" font-size="6.6" text-anchor="middle" fill="#262626" transform="rotate(-90 338.6 90)" stroke="#262626" stroke-width="0.16">AML</text>
<text x="384.20" y="154.30" font-size="6.6" text-anchor="middle" fill="#262626" stroke="#262626" stroke-width="0.16">Low</text>
<text x="440.20" y="154.30" font-size="6.6" text-anchor="middle" fill="#262626" stroke="#262626" stroke-width="0.16">High</text>
<line x1="370.40" y1="159.40" x2="454.00" y2="159.40" stroke="#444" stroke-width="1"/>
<text x="412.20" y="167.50" font-size="6.6" text-anchor="middle" fill="#262626" stroke="#262626" stroke-width="0.16">HSC</text>
<text x="7.50" y="198.80" font-size="11.3" text-anchor="start" fill="#111" font-weight="bold" stroke="#111" stroke-width="0.35">D</text>
<line x1="48.70" y1="209.00" x2="48.70" y2="294.20" stroke="#2a2a2a" stroke-width="1.2"/>
<line x1="48.10" y1="294.20" x2="117.50" y2="294.20" stroke="#2a2a2a" stroke-width="1.2"/>
<line x1="45.40" y1="211.10" x2="48.70" y2="211.10" stroke="#2a2a2a" stroke-width="1.0"/>
<text x="44.20" y="213.50" font-size="6.7" text-anchor="end" fill="#262626" stroke="#262626" stroke-width="0.16">1.0</text>
<line x1="45.40" y1="252.55" x2="48.70" y2="252.55" stroke="#2a2a2a" stroke-width="1.0"/>
<text x="44.20" y="254.95" font-size="6.7" text-anchor="end" fill="#262626" stroke="#262626" stroke-width="0.16">0.5</text>
<line x1="45.40" y1="294.00" x2="48.70" y2="294.00" stroke="#2a2a2a" stroke-width="1.0"/>
<text x="44.20" y="296.40" font-size="6.7" text-anchor="end" fill="#262626" stroke="#262626" stroke-width="0.16">0</text>
<text x="27.60" y="251.10" font-size="6.9" text-anchor="middle" fill="#262626" transform="rotate(-90 27.6 251.1)" textLength="53" lengthAdjust="spacingAndGlyphs" stroke="#262626" stroke-width="0.16">Relative ATP level</text>
<rect x="52.90" y="211.10" width="8.80" height="83.10" fill="#46556a"/>
<circle cx="54.60" cy="211.10" r="1.5" fill="#111" stroke="none" stroke-width="0.8"/>
<circle cx="57.40" cy="211.10" r="1.5" fill="#111" stroke="none" stroke-width="0.8"/>
<circle cx="60.20" cy="211.10" r="1.5" fill="#111" stroke="none" stroke-width="0.8"/>
<line x1="57.30" y1="294.20" x2="57.30" y2="296.60" stroke="#2a2a2a" stroke-width="1.0"/>
<rect x="65.90" y="226.10" width="8.80" height="68.10" fill="#d3c3df"/>
<line x1="70.30" y1="222.20" x2="70.30" y2="228.50" stroke="#111" stroke-width="1.1"/>
<line x1="68.40" y1="222.20" x2="72.20" y2="222.20" stroke="#111" stroke-width="1.2"/>
<line x1="68.40" y1="228.50" x2="72.20" y2="228.50" stroke="#111" stroke-width="1.2"/>
<circle cx="66.90" cy="226.10" r="1.5" fill="#111" stroke="none" stroke-width="0.8"/>
<circle cx="70.40" cy="222.60" r="1.5" fill="#111" stroke="none" stroke-width="0.8"/>
<circle cx="73.90" cy="226.10" r="1.5" fill="#111" stroke="none" stroke-width="0.8"/>
<circle cx="67.70" cy="218.90" r="0.95" fill="#2a2a2a" stroke="none" stroke-width="0.8"/>
<circle cx="70.30" cy="218.90" r="0.95" fill="#2a2a2a" stroke="none" stroke-width="0.8"/>
<circle cx="72.90" cy="218.90" r="0.95" fill="#2a2a2a" stroke="none" stroke-width="0.8"/>
<line x1="70.30" y1="294.20" x2="70.30" y2="296.60" stroke="#2a2a2a" stroke-width="1.0"/>
<rect x="78.90" y="229.80" width="8.80" height="64.40" fill="#a98ab8"/>
<line x1="83.30" y1="227.50" x2="83.30" y2="231.50" stroke="#111" stroke-width="1.1"/>
<line x1="81.40" y1="227.50" x2="85.20" y2="227.50" stroke="#111" stroke-width="1.2"/>
<line x1="81.40" y1="231.50" x2="85.20" y2="231.50" stroke="#111" stroke-width="1.2"/>
<circle cx="79.90" cy="230.20" r="1.5" fill="#111" stroke="none" stroke-width="0.8"/>
<circle cx="83.20" cy="228.20" r="1.5" fill="#111" stroke="none" stroke-width="0.8"/>
<circle cx="86.50" cy="230.20" r="1.5" fill="#111" stroke="none" stroke-width="0.8"/>
<circle cx="80.70" cy="223.40" r="0.95" fill="#2a2a2a" stroke="none" stroke-width="0.8"/>
<circle cx="83.30" cy="223.40" r="0.95" fill="#2a2a2a" stroke="none" stroke-width="0.8"/>
<circle cx="85.90" cy="223.40" r="0.95" fill="#2a2a2a" stroke="none" stroke-width="0.8"/>
<line x1="83.30" y1="294.20" x2="83.30" y2="296.60" stroke="#2a2a2a" stroke-width="1.0"/>
<rect x="91.50" y="242.00" width="8.80" height="52.20" fill="#7d4f8d"/>
<line x1="95.90" y1="234.00" x2="95.90" y2="250.40" stroke="#111" stroke-width="1.1"/>
<line x1="94.00" y1="234.00" x2="97.80" y2="234.00" stroke="#111" stroke-width="1.2"/>
<line x1="94.00" y1="250.40" x2="97.80" y2="250.40" stroke="#111" stroke-width="1.2"/>
<circle cx="95.90" cy="234.80" r="1.5" fill="#111" stroke="none" stroke-width="0.8"/>
<circle cx="95.90" cy="240.40" r="1.5" fill="#111" stroke="none" stroke-width="0.8"/>
<circle cx="95.90" cy="250.20" r="1.5" fill="#111" stroke="none" stroke-width="0.8"/>
<circle cx="94.60" cy="229.10" r="0.95" fill="#2a2a2a" stroke="none" stroke-width="0.8"/>
<circle cx="97.20" cy="229.10" r="0.95" fill="#2a2a2a" stroke="none" stroke-width="0.8"/>
<line x1="95.90" y1="294.20" x2="95.90" y2="296.60" stroke="#2a2a2a" stroke-width="1.0"/>
<rect x="104.40" y="245.20" width="8.80" height="49.00" fill="#5b2366"/>
<line x1="108.80" y1="239.10" x2="108.80" y2="250.40" stroke="#111" stroke-width="1.1"/>
<line x1="106.90" y1="239.10" x2="110.70" y2="239.10" stroke="#111" stroke-width="1.2"/>
<line x1="106.90" y1="250.40" x2="110.70" y2="250.40" stroke="#111" stroke-width="1.2"/>
<circle cx="108.80" cy="239.90" r="1.5" fill="#111" stroke="none" stroke-width="0.8"/>
<circle cx="108.80" cy="243.80" r="1.5" fill="#111" stroke="none" stroke-width="0.8"/>
<circle cx="108.80" cy="250.20" r="1.5" fill="#111" stroke="none" stroke-width="0.8"/>
<circle cx="106.20" cy="234.90" r="0.95" fill="#2a2a2a" stroke="none" stroke-width="0.8"/>
<circle cx="108.80" cy="234.90" r="0.95" fill="#2a2a2a" stroke="none" stroke-width="0.8"/>
<circle cx="111.40" cy="234.90" r="0.95" fill="#2a2a2a" stroke="none" stroke-width="0.8"/>
<line x1="108.80" y1="294.20" x2="108.80" y2="296.60" stroke="#2a2a2a" stroke-width="1.0"/>
<text x="57.50" y="305.60" font-size="6.6" text-anchor="middle" fill="#262626" stroke="#262626" stroke-width="0.16">0</text>
<text x="70.80" y="305.60" font-size="6.6" text-anchor="middle" fill="#262626" stroke="#262626" stroke-width="0.16">10</text>
<text x="83.30" y="305.60" font-size="6.6" text-anchor="middle" fill="#262626" stroke="#262626" stroke-width="0.16">20</text>
<text x="95.80" y="305.60" font-size="6.6" text-anchor="middle" fill="#262626" stroke="#262626" stroke-width="0.16">40</text>
<text x="108.30" y="305.60" font-size="6.6" text-anchor="middle" fill="#262626" stroke="#262626" stroke-width="0.16">60</text>
<text x="42.90" y="305.90" font-size="6.6" text-anchor="end" fill="#262626" stroke="#262626" stroke-width="0.16">2BP (µM)</text>
<line x1="53.80" y1="310.50" x2="110.00" y2="310.50" stroke="#333" stroke-width="0.9"/>
<text x="82.00" y="318.20" font-size="6.6" text-anchor="middle" fill="#262626" stroke="#262626" stroke-width="0.16">HL60</text>
<line x1="138.40" y1="207.90" x2="138.40" y2="294.40" stroke="#2a2a2a" stroke-width="1.1"/>
<line x1="137.90" y1="294.40" x2="280.70" y2="294.40" stroke="#2a2a2a" stroke-width="1.1"/>
<line x1="135.90" y1="210.50" x2="138.40" y2="210.50" stroke="#2a2a2a" stroke-width="0.9"/>
<line x1="135.90" y1="252.45" x2="138.40" y2="252.45" stroke="#2a2a2a" stroke-width="0.9"/>
<rect x="142.40" y="210.50" width="8.80" height="83.90" fill="#46556a"/>
<circle cx="144.00" cy="210.50" r="1.45" fill="#111" stroke="none" stroke-width="0.8"/>
<circle cx="146.80" cy="210.50" r="1.45" fill="#111" stroke="none" stroke-width="0.8"/>
<circle cx="149.60" cy="210.50" r="1.45" fill="#111" stroke="none" stroke-width="0.8"/>
<rect x="153.60" y="232.30" width="8.80" height="62.10" fill="#5b2366"/>
<line x1="158.00" y1="227.60" x2="158.00" y2="236.00" stroke="#111" stroke-width="1.1"/>
<line x1="156.10" y1="227.60" x2="159.90" y2="227.60" stroke="#111" stroke-width="1.2"/>
<line x1="156.10" y1="236.00" x2="159.90" y2="236.00" stroke="#111" stroke-width="1.2"/>
<circle cx="154.80" cy="232.30" r="1.5" fill="#111" stroke="none" stroke-width="0.8"/>
<circle cx="158.00" cy="228.00" r="1.5" fill="#111" stroke="none" stroke-width="0.8"/>
<circle cx="161.20" cy="232.30" r="1.5" fill="#111" stroke="none" stroke-width="0.8"/>
<circle cx="155.40" cy="222.70" r="0.95" fill="#2a2a2a" stroke="none" stroke-width="0.8"/>
<circle cx="158.00" cy="222.70" r="0.95" fill="#2a2a2a" stroke="none" stroke-width="0.8"/>
<circle cx="160.60" cy="222.70" r="0.95" fill="#2a2a2a" stroke="none" stroke-width="0.8"/>
<line x1="146.80" y1="294.40" x2="146.80" y2="296.80" stroke="#2a2a2a" stroke-width="1.0"/>
<line x1="158.00" y1="294.40" x2="158.00" y2="296.80" stroke="#2a2a2a" stroke-width="1.0"/>
<text x="146.80" y="305.80" font-size="6.6" text-anchor="middle" fill="#262626" stroke="#262626" stroke-width="0.16">–</text>
<text x="158.00" y="305.80" font-size="6.6" text-anchor="middle" fill="#262626" stroke="#262626" stroke-width="0.16">+</text>
<line x1="140.80" y1="310.50" x2="163.20" y2="310.50" stroke="#333" stroke-width="1.0"/>
<text x="152.40" y="319.00" font-size="6.8" text-anchor="middle" fill="#262626" stroke="#262626" stroke-width="0.16">NB4</text>
<rect x="169.80" y="210.50" width="8.80" height="83.90" fill="#46556a"/>
<circle cx="171.40" cy="210.50" r="1.45" fill="#111" stroke="none" stroke-width="0.8"/>
<circle cx="174.20" cy="210.50" r="1.45" fill="#111" stroke="none" stroke-width="0.8"/>
<circle cx="177.00" cy="210.50" r="1.45" fill="#111" stroke="none" stroke-width="0.8"/>
<rect x="181.00" y="245.10" width="8.80" height="49.30" fill="#5b2366"/>
<line x1="185.40" y1="233.20" x2="185.40" y2="257.70" stroke="#111" stroke-width="1.1"/>
<line x1="183.50" y1="233.20" x2="187.30" y2="233.20" stroke="#111" stroke-width="1.2"/>
<line x1="183.50" y1="257.70" x2="187.30" y2="257.70" stroke="#111" stroke-width="1.2"/>
<circle cx="185.40" cy="235.80" r="1.5" fill="#111" stroke="none" stroke-width="0.8"/>
<circle cx="185.40" cy="241.00" r="1.5" fill="#111" stroke="none" stroke-width="0.8"/>
<circle cx="185.40" cy="256.80" r="1.5" fill="#111" stroke="none" stroke-width="0.8"/>
<circle cx="184.10" cy="227.40" r="0.95" fill="#2a2a2a" stroke="none" stroke-width="0.8"/>
<circle cx="186.70" cy="227.40" r="0.95" fill="#2a2a2a" stroke="none" stroke-width="0.8"/>
<line x1="174.20" y1="294.40" x2="174.20" y2="296.80" stroke="#2a2a2a" stroke-width="1.0"/>
<line x1="185.40" y1="294.40" x2="185.40" y2="296.80" stroke="#2a2a2a" stroke-width="1.0"/>
<text x="174.20" y="305.80" font-size="6.6" text-anchor="middle" fill="#262626" stroke="#262626" stroke-width="0.16">–</text>
<text x="185.40" y="305.80" font-size="6.6" text-anchor="middle" fill="#262626" stroke="#262626" stroke-width="0.16">+</text>
<line x1="168.20" y1="310.50" x2="190.60" y2="310.50" stroke="#333" stroke-width="1.0"/>
<text x="179.80" y="319.00" font-size="6.8" text-anchor="middle" fill="#262626" stroke="#262626" stroke-width="0.16">MV411</text>
<rect x="198.10" y="210.50" width="8.80" height="83.90" fill="#46556a"/>
<circle cx="199.70" cy="210.50" r="1.45" fill="#111" stroke="none" stroke-width="0.8"/>
<circle cx="202.50" cy="210.50" r="1.45" fill="#111" stroke="none" stroke-width="0.8"/>
<circle cx="205.30" cy="210.50" r="1.45" fill="#111" stroke="none" stroke-width="0.8"/>
<rect x="209.30" y="242.50" width="8.80" height="51.90" fill="#5b2366"/>
<line x1="213.70" y1="237.20" x2="213.70" y2="246.00" stroke="#111" stroke-width="1.1"/>
<line x1="211.80" y1="237.20" x2="215.60" y2="237.20" stroke="#111" stroke-width="1.2"/>
<line x1="211.80" y1="246.00" x2="215.60" y2="246.00" stroke="#111" stroke-width="1.2"/>
<circle cx="212.70" cy="238.10" r="1.5" fill="#111" stroke="none" stroke-width="0.8"/>
<circle cx="215.70" cy="239.30" r="1.5" fill="#111" stroke="none" stroke-width="0.8"/>
<circle cx="212.20" cy="243.00" r="1.5" fill="#111" stroke="none" stroke-width="0.8"/>
<circle cx="211.10" cy="232.30" r="0.95" fill="#2a2a2a" stroke="none" stroke-width="0.8"/>
<circle cx="213.70" cy="232.30" r="0.95" fill="#2a2a2a" stroke="none" stroke-width="0.8"/>
<circle cx="216.30" cy="232.30" r="0.95" fill="#2a2a2a" stroke="none" stroke-width="0.8"/>
<line x1="202.50" y1="294.40" x2="202.50" y2="296.80" stroke="#2a2a2a" stroke-width="1.0"/>
<line x1="213.70" y1="294.40" x2="213.70" y2="296.80" stroke="#2a2a2a" stroke-width="1.0"/>
<text x="202.50" y="305.80" font-size="6.6" text-anchor="middle" fill="#262626" stroke="#262626" stroke-width="0.16">–</text>
<text x="213.70" y="305.80" font-size="6.6" text-anchor="middle" fill="#262626" stroke="#262626" stroke-width="0.16">+</text>
<line x1="196.50" y1="310.50" x2="218.90" y2="310.50" stroke="#333" stroke-width="1.0"/>
<text x="208.10" y="319.00" font-size="6.8" text-anchor="middle" fill="#262626" stroke="#262626" stroke-width="0.16">OCI-AML3</text>
<rect x="225.20" y="210.50" width="8.80" height="83.90" fill="#46556a"/>
<circle cx="226.80" cy="210.50" r="1.45" fill="#111" stroke="none" stroke-width="0.8"/>
<circle cx="229.60" cy="210.50" r="1.45" fill="#111" stroke="none" stroke-width="0.8"/>
<circle cx="232.40" cy="210.50" r="1.45" fill="#111" stroke="none" stroke-width="0.8"/>
<rect x="236.40" y="237.60" width="8.80" height="56.80" fill="#5b2366"/>
<line x1="240.80" y1="231.50" x2="240.80" y2="242.80" stroke="#111" stroke-width="1.1"/>
<line x1="238.90" y1="231.50" x2="242.70" y2="231.50" stroke="#111" stroke-width="1.2"/>
<line x1="238.90" y1="242.80" x2="242.70" y2="242.80" stroke="#111" stroke-width="1.2"/>
<circle cx="240.80" cy="232.50" r="1.5" fill="#111" stroke="none" stroke-width="0.8"/>
<circle cx="238.60" cy="238.50" r="1.5" fill="#111" stroke="none" stroke-width="0.8"/>
<circle cx="243.00" cy="238.80" r="1.5" fill="#111" stroke="none" stroke-width="0.8"/>
<circle cx="238.20" cy="227.10" r="0.95" fill="#2a2a2a" stroke="none" stroke-width="0.8"/>
<circle cx="240.80" cy="227.10" r="0.95" fill="#2a2a2a" stroke="none" stroke-width="0.8"/>
<circle cx="243.40" cy="227.10" r="0.95" fill="#2a2a2a" stroke="none" stroke-width="0.8"/>
<line x1="229.60" y1="294.40" x2="229.60" y2="296.80" stroke="#2a2a2a" stroke-width="1.0"/>
<line x1="240.80" y1="294.40" x2="240.80" y2="296.80" stroke="#2a2a2a" stroke-width="1.0"/>
<text x="229.60" y="305.80" font-size="6.6" text-anchor="middle" fill="#262626" stroke="#262626" stroke-width="0.16">–</text>
<text x="240.80" y="305.80" font-size="6.6" text-anchor="middle" fill="#262626" stroke="#262626" stroke-width="0.16">+</text>
<line x1="223.60" y1="310.50" x2="246.00" y2="310.50" stroke="#333" stroke-width="1.0"/>
<text x="235.20" y="319.00" font-size="6.8" text-anchor="middle" fill="#262626" stroke="#262626" stroke-width="0.16">THP-1</text>
<rect x="253.00" y="210.50" width="8.80" height="83.90" fill="#46556a"/>
<circle cx="254.60" cy="210.50" r="1.45" fill="#111" stroke="none" stroke-width="0.8"/>
<circle cx="257.40" cy="210.50" r="1.45" fill="#111" stroke="none" stroke-width="0.8"/>
<circle cx="260.20" cy="210.50" r="1.45" fill="#111" stroke="none" stroke-width="0.8"/>
<rect x="264.20" y="232.00" width="8.80" height="62.40" fill="#5b2366"/>
<line x1="268.60" y1="231.00" x2="268.60" y2="233.00" stroke="#111" stroke-width="1.1"/>
<line x1="266.70" y1="231.00" x2="270.50" y2="231.00" stroke="#111" stroke-width="1.2"/>
<line x1="266.70" y1="233.00" x2="270.50" y2="233.00" stroke="#111" stroke-width="1.2"/>
<circle cx="266.00" cy="232.20" r="1.5" fill="#111" stroke="none" stroke-width="0.8"/>
<circle cx="268.60" cy="231.10" r="1.5" fill="#111" stroke="none" stroke-width="0.8"/>
<circle cx="271.20" cy="232.30" r="1.5" fill="#111" stroke="none" stroke-width="0.8"/>
<circle cx="266.00" cy="224.50" r="0.95" fill="#2a2a2a" stroke="none" stroke-width="0.8"/>
<circle cx="268.60" cy="224.50" r="0.95" fill="#2a2a2a" stroke="none" stroke-width="0.8"/>
<circle cx="271.20" cy="224.50" r="0.95" fill="#2a2a2a" stroke="none" stroke-width="0.8"/>
<line x1="257.40" y1="294.40" x2="257.40" y2="296.80" stroke="#2a2a2a" stroke-width="1.0"/>
<line x1="268.60" y1="294.40" x2="268.60" y2="296.80" stroke="#2a2a2a" stroke-width="1.0"/>
<text x="257.40" y="305.80" font-size="6.6" text-anchor="middle" fill="#262626" stroke="#262626" stroke-width="0.16">–</text>
<text x="268.60" y="305.80" font-size="6.6" text-anchor="middle" fill="#262626" stroke="#262626" stroke-width="0.16">+</text>
<line x1="251.40" y1="310.50" x2="273.80" y2="310.50" stroke="#333" stroke-width="1.0"/>
<text x="263.00" y="319.00" font-size="6.8" text-anchor="middle" fill="#262626" stroke="#262626" stroke-width="0.16">Kasumi-1</text>
<text x="138.00" y="305.80" font-size="6.2" text-anchor="end" fill="#262626" stroke="#262626" stroke-width="0.16">2BP</text>
<text x="296.80" y="199.20" font-size="11.3" text-anchor="start" fill="#111" font-weight="bold" stroke="#111" stroke-width="0.35">E</text>
<line x1="361.61" y1="207.00" x2="361.61" y2="310.40" stroke="#5a9c5a" stroke-width="0.95" stroke-dasharray="5,3.4"/>
<text x="361.61" y="199.00" font-size="6.8" text-anchor="middle" fill="#262626" stroke="#262626" stroke-width="0.16">Oligo</text>
<line x1="401.31" y1="207.00" x2="401.31" y2="310.40" stroke="#5a9c5a" stroke-width="0.95" stroke-dasharray="5,3.4"/>
<text x="401.31" y="199.00" font-size="6.8" text-anchor="middle" fill="#262626" stroke="#262626" stroke-width="0.16">FCCP</text>
<line x1="440.40" y1="207.00" x2="440.40" y2="310.40" stroke="#5a9c5a" stroke-width="0.95" stroke-dasharray="5,3.4"/>
<text x="440.40" y="199.00" font-size="6.8" text-anchor="middle" fill="#262626" stroke="#262626" stroke-width="0.16">Rot+AA</text>
<line x1="333.20" y1="201.00" x2="333.20" y2="310.90" stroke="#2a2a2a" stroke-width="1.1"/>
<line x1="332.70" y1="310.40" x2="494.90" y2="310.40" stroke="#2a2a2a" stroke-width="1.1"/>
<line x1="330.00" y1="310.40" x2="333.20" y2="310.40" stroke="#2a2a2a" stroke-width="1.0"/>
<text x="327.20" y="312.80" font-size="6.9" text-anchor="end" fill="#262626" stroke="#262626" stroke-width="0.16">0</text>
<line x1="330.00" y1="274.90" x2="333.20" y2="274.90" stroke="#2a2a2a" stroke-width="1.0"/>
<text x="327.20" y="277.30" font-size="6.9" text-anchor="end" fill="#262626" stroke="#262626" stroke-width="0.16">100</text>
<line x1="330.00" y1="239.40" x2="333.20" y2="239.40" stroke="#2a2a2a" stroke-width="1.0"/>
<text x="327.20" y="241.80" font-size="6.9" text-anchor="end" fill="#262626" stroke="#262626" stroke-width="0.16">200</text>
<line x1="330.00" y1="203.90" x2="333.20" y2="203.90" stroke="#2a2a2a" stroke-width="1.0"/>
<text x="327.20" y="206.30" font-size="6.9" text-anchor="end" fill="#262626" stroke="#262626" stroke-width="0.16">300</text>
<line x1="333.20" y1="310.40" x2="333.20" y2="312.90" stroke="#2a2a2a" stroke-width="0.9"/>
<text x="333.20" y="322.30" font-size="6.6" text-anchor="middle" fill="#262626" stroke="#262626" stroke-width="0.16">0</text>
<line x1="373.50" y1="310.40" x2="373.50" y2="312.90" stroke="#2a2a2a" stroke-width="0.9"/>
<text x="373.50" y="322.30" font-size="6.6" text-anchor="middle" fill="#262626" stroke="#262626" stroke-width="0.16">20</text>
<line x1="413.80" y1="310.40" x2="413.80" y2="312.90" stroke="#2a2a2a" stroke-width="0.9"/>
<text x="413.80" y="322.30" font-size="6.6" text-anchor="middle" fill="#262626" stroke="#262626" stroke-width="0.16">40</text>
<line x1="454.10" y1="310.40" x2="454.10" y2="312.90" stroke="#2a2a2a" stroke-width="0.9"/>
<text x="454.10" y="322.30" font-size="6.6" text-anchor="middle" fill="#262626" stroke="#262626" stroke-width="0.16">60</text>
<line x1="494.40" y1="310.40" x2="494.40" y2="312.90" stroke="#2a2a2a" stroke-width="0.9"/>
<text x="494.40" y="322.30" font-size="6.6" text-anchor="middle" fill="#262626" stroke="#262626" stroke-width="0.16">80</text>
<text x="415.21" y="334.00" font-size="7.2" text-anchor="middle" fill="#262626" stroke="#262626" stroke-width="0.16">Time (minutes)</text>
<text x="310.00" y="255.80" font-size="7.0" text-anchor="middle" fill="#262626" transform="rotate(-90 310.0 255.8)" textLength="49.5" lengthAdjust="spacingAndGlyphs" stroke="#262626" stroke-width="0.16">OCR (pmol/min)</text>
<polyline points="336.02,286.26 349.12,287.68 362.22,289.81 375.31,295.13 388.41,296.91 401.51,296.91 414.61,278.45 427.70,288.39 440.80,291.94 453.90,300.81 467.00,301.17 480.09,301.17" fill="none" stroke="#4a1a58" stroke-width="1.1"/>
<line x1="336.02" y1="284.84" x2="336.02" y2="287.68" stroke="#4a1a58" stroke-width="0.8"/>
<line x1="334.72" y1="284.84" x2="337.32" y2="284.84" stroke="#4a1a58" stroke-width="0.8"/>
<line x1="334.72" y1="287.68" x2="337.32" y2="287.68" stroke="#4a1a58" stroke-width="0.8"/>
<circle cx="336.02" cy="286.26" r="1.75" fill="#4a1a58" stroke="none" stroke-width="0.8"/>
<line x1="349.12" y1="286.26" x2="349.12" y2="289.10" stroke="#4a1a58" stroke-width="0.8"/>
<line x1="347.82" y1="286.26" x2="350.42" y2="286.26" stroke="#4a1a58" stroke-width="0.8"/>
<line x1="347.82" y1="289.10" x2="350.42" y2="289.10" stroke="#4a1a58" stroke-width="0.8"/>
<circle cx="349.12" cy="287.68" r="1.75" fill="#4a1a58" stroke="none" stroke-width="0.8"/>
<line x1="362.22" y1="288.39" x2="362.22" y2="291.23" stroke="#4a1a58" stroke-width="0.8"/>
<line x1="360.92" y1="288.39" x2="363.52" y2="288.39" stroke="#4a1a58" stroke-width="0.8"/>
<line x1="360.92" y1="291.23" x2="363.52" y2="291.23" stroke="#4a1a58" stroke-width="0.8"/>
<circle cx="362.22" cy="289.81" r="1.75" fill="#4a1a58" stroke="none" stroke-width="0.8"/>
<circle cx="375.31" cy="295.13" r="1.75" fill="#4a1a58" stroke="none" stroke-width="0.8"/>
<circle cx="388.41" cy="296.91" r="1.75" fill="#4a1a58" stroke="none" stroke-width="0.8"/>
<circle cx="401.51" cy="296.91" r="1.75" fill="#4a1a58" stroke="none" stroke-width="0.8"/>
<line x1="414.61" y1="275.61" x2="414.61" y2="281.29" stroke="#4a1a58" stroke-width="0.8"/>
<line x1="413.31" y1="275.61" x2="415.91" y2="275.61" stroke="#4a1a58" stroke-width="0.8"/>
<line x1="413.31" y1="281.29" x2="415.91" y2="281.29" stroke="#4a1a58" stroke-width="0.8"/>
<circle cx="414.61" cy="278.45" r="1.75" fill="#4a1a58" stroke="none" stroke-width="0.8"/>
<line x1="427.70" y1="286.61" x2="427.70" y2="290.16" stroke="#4a1a58" stroke-width="0.8"/>
<line x1="426.40" y1="286.61" x2="429.00" y2="286.61" stroke="#4a1a58" stroke-width="0.8"/>
<line x1="426.40" y1="290.16" x2="429.00" y2="290.16" stroke="#4a1a58" stroke-width="0.8"/>
<circle cx="427.70" cy="288.39" r="1.75" fill="#4a1a58" stroke="none" stroke-width="0.8"/>
<line x1="440.80" y1="290.16" x2="440.80" y2="293.71" stroke="#4a1a58" stroke-width="0.8"/>
<line x1="439.50" y1="290.16" x2="442.10" y2="290.16" stroke="#4a1a58" stroke-width="0.8"/>
<line x1="439.50" y1="293.71" x2="442.10" y2="293.71" stroke="#4a1a58" stroke-width="0.8"/>
<circle cx="440.80" cy="291.94" r="1.75" fill="#4a1a58" stroke="none" stroke-width="0.8"/>
<circle cx="453.90" cy="300.81" r="1.75" fill="#4a1a58" stroke="none" stroke-width="0.8"/>
<circle cx="467.00" cy="301.17" r="1.75" fill="#4a1a58" stroke="none" stroke-width="0.8"/>
<circle cx="480.09" cy="301.17" r="1.75" fill="#4a1a58" stroke="none" stroke-width="0.8"/>
<polyline points="336.02,282.00 349.12,284.48 362.22,286.26 375.31,294.07 388.41,296.20 401.51,296.20 414.61,274.90 427.70,286.26 440.80,289.81 453.90,300.46 467.00,300.81 480.09,300.81" fill="none" stroke="#7a4a8a" stroke-width="1.1"/>
<line x1="336.02" y1="280.58" x2="336.02" y2="283.42" stroke="#7a4a8a" stroke-width="0.8"/>
<line x1="334.72" y1="280.58" x2="337.32" y2="280.58" stroke="#7a4a8a" stroke-width="0.8"/>
<line x1="334.72" y1="283.42" x2="337.32" y2="283.42" stroke="#7a4a8a" stroke-width="0.8"/>
<circle cx="336.02" cy="282.00" r="1.75" fill="#7a4a8a" stroke="none" stroke-width="0.8"/>
<line x1="349.12" y1="283.06" x2="349.12" y2="285.90" stroke="#7a4a8a" stroke-width="0.8"/>
<line x1="347.82" y1="283.06" x2="350.42" y2="283.06" stroke="#7a4a8a" stroke-width="0.8"/>
<line x1="347.82" y1="285.90" x2="350.42" y2="285.90" stroke="#7a4a8a" stroke-width="0.8"/>
<circle cx="349.12" cy="284.48" r="1.75" fill="#7a4a8a" stroke="none" stroke-width="0.8"/>
<line x1="362.22" y1="284.84" x2="362.22" y2="287.68" stroke="#7a4a8a" stroke-width="0.8"/>
<line x1="360.92" y1="284.84" x2="363.52" y2="284.84" stroke="#7a4a8a" stroke-width="0.8"/>
<line x1="360.92" y1="287.68" x2="363.52" y2="287.68" stroke="#7a4a8a" stroke-width="0.8"/>
<circle cx="362.22" cy="286.26" r="1.75" fill="#7a4a8a" stroke="none" stroke-width="0.8"/>
<circle cx="375.31" cy="294.07" r="1.75" fill="#7a4a8a" stroke="none" stroke-width="0.8"/>
<circle cx="388.41" cy="296.20" r="1.75" fill="#7a4a8a" stroke="none" stroke-width="0.8"/>
<circle cx="401.51" cy="296.20" r="1.75" fill="#7a4a8a" stroke="none" stroke-width="0.8"/>
<line x1="414.61" y1="272.06" x2="414.61" y2="277.74" stroke="#7a4a8a" stroke-width="0.8"/>
<line x1="413.31" y1="272.06" x2="415.91" y2="272.06" stroke="#7a4a8a" stroke-width="0.8"/>
<line x1="413.31" y1="277.74" x2="415.91" y2="277.74" stroke="#7a4a8a" stroke-width="0.8"/>
<circle cx="414.61" cy="274.90" r="1.75" fill="#7a4a8a" stroke="none" stroke-width="0.8"/>
<line x1="427.70" y1="284.48" x2="427.70" y2="288.03" stroke="#7a4a8a" stroke-width="0.8"/>
<line x1="426.40" y1="284.48" x2="429.00" y2="284.48" stroke="#7a4a8a" stroke-width="0.8"/>
<line x1="426.40" y1="288.03" x2="429.00" y2="288.03" stroke="#7a4a8a" stroke-width="0.8"/>
<circle cx="427.70" cy="286.26" r="1.75" fill="#7a4a8a" stroke="none" stroke-width="0.8"/>
<line x1="440.80" y1="288.03" x2="440.80" y2="291.58" stroke="#7a4a8a" stroke-width="0.8"/>
<line x1="439.50" y1="288.03" x2="442.10" y2="288.03" stroke="#7a4a8a" stroke-width="0.8"/>
<line x1="439.50" y1="291.58" x2="442.10" y2="291.58" stroke="#7a4a8a" stroke-width="0.8"/>
<circle cx="440.80" cy="289.81" r="1.75" fill="#7a4a8a" stroke="none" stroke-width="0.8"/>
<circle cx="453.90" cy="300.46" r="1.75" fill="#7a4a8a" stroke="none" stroke-width="0.8"/>
<circle cx="467.00" cy="300.81" r="1.75" fill="#7a4a8a" stroke="none" stroke-width="0.8"/>
<circle cx="480.09" cy="300.81" r="1.75" fill="#7a4a8a" stroke="none" stroke-width="0.8"/>
<polyline points="336.02,275.61 349.12,277.03 362.22,278.80 375.31,292.29 388.41,295.13 401.51,295.13 414.61,262.47 427.70,278.80 440.80,284.84 453.90,300.10 467.00,300.46 480.09,300.46" fill="none" stroke="#a888b8" stroke-width="1.1"/>
<line x1="336.02" y1="273.83" x2="336.02" y2="277.38" stroke="#a888b8" stroke-width="0.8"/>
<line x1="334.72" y1="273.83" x2="337.32" y2="273.83" stroke="#a888b8" stroke-width="0.8"/>
<line x1="334.72" y1="277.38" x2="337.32" y2="277.38" stroke="#a888b8" stroke-width="0.8"/>
<circle cx="336.02" cy="275.61" r="1.75" fill="#a888b8" stroke="none" stroke-width="0.8"/>
<line x1="349.12" y1="275.25" x2="349.12" y2="278.80" stroke="#a888b8" stroke-width="0.8"/>
<line x1="347.82" y1="275.25" x2="350.42" y2="275.25" stroke="#a888b8" stroke-width="0.8"/>
<line x1="347.82" y1="278.80" x2="350.42" y2="278.80" stroke="#a888b8" stroke-width="0.8"/>
<circle cx="349.12" cy="277.03" r="1.75" fill="#a888b8" stroke="none" stroke-width="0.8"/>
<line x1="362.22" y1="277.03" x2="362.22" y2="280.58" stroke="#a888b8" stroke-width="0.8"/>
<line x1="360.92" y1="277.03" x2="363.52" y2="277.03" stroke="#a888b8" stroke-width="0.8"/>
<line x1="360.92" y1="280.58" x2="363.52" y2="280.58" stroke="#a888b8" stroke-width="0.8"/>
<circle cx="362.22" cy="278.80" r="1.75" fill="#a888b8" stroke="none" stroke-width="0.8"/>
<circle cx="375.31" cy="292.29" r="1.75" fill="#a888b8" stroke="none" stroke-width="0.8"/>
<circle cx="388.41" cy="295.13" r="1.75" fill="#a888b8" stroke="none" stroke-width="0.8"/>
<circle cx="401.51" cy="295.13" r="1.75" fill="#a888b8" stroke="none" stroke-width="0.8"/>
<line x1="414.61" y1="259.28" x2="414.61" y2="265.67" stroke="#a888b8" stroke-width="0.8"/>
<line x1="413.31" y1="259.28" x2="415.91" y2="259.28" stroke="#a888b8" stroke-width="0.8"/>
<line x1="413.31" y1="265.67" x2="415.91" y2="265.67" stroke="#a888b8" stroke-width="0.8"/>
<circle cx="414.61" cy="262.47" r="1.75" fill="#a888b8" stroke="none" stroke-width="0.8"/>
<line x1="427.70" y1="276.67" x2="427.70" y2="280.94" stroke="#a888b8" stroke-width="0.8"/>
<line x1="426.40" y1="276.67" x2="429.00" y2="276.67" stroke="#a888b8" stroke-width="0.8"/>
<line x1="426.40" y1="280.94" x2="429.00" y2="280.94" stroke="#a888b8" stroke-width="0.8"/>
<circle cx="427.70" cy="278.80" r="1.75" fill="#a888b8" stroke="none" stroke-width="0.8"/>
<line x1="440.80" y1="283.06" x2="440.80" y2="286.61" stroke="#a888b8" stroke-width="0.8"/>
<line x1="439.50" y1="283.06" x2="442.10" y2="283.06" stroke="#a888b8" stroke-width="0.8"/>
<line x1="439.50" y1="286.61" x2="442.10" y2="286.61" stroke="#a888b8" stroke-width="0.8"/>
<circle cx="440.80" cy="284.84" r="1.75" fill="#a888b8" stroke="none" stroke-width="0.8"/>
<circle cx="453.90" cy="300.10" r="1.75" fill="#a888b8" stroke="none" stroke-width="0.8"/>
<circle cx="467.00" cy="300.46" r="1.75" fill="#a888b8" stroke="none" stroke-width="0.8"/>
<circle cx="480.09" cy="300.46" r="1.75" fill="#a888b8" stroke="none" stroke-width="0.8"/>
<polyline points="336.02,272.41 349.12,274.19 362.22,275.61 375.31,290.16 388.41,293.71 401.51,294.07 414.61,246.50 427.70,267.80 440.80,276.32 453.90,299.75 467.00,300.10 480.09,300.10" fill="none" stroke="#d5c7e2" stroke-width="1.1"/>
<line x1="336.02" y1="270.64" x2="336.02" y2="274.19" stroke="#d5c7e2" stroke-width="0.8"/>
<line x1="334.72" y1="270.64" x2="337.32" y2="270.64" stroke="#d5c7e2" stroke-width="0.8"/>
<line x1="334.72" y1="274.19" x2="337.32" y2="274.19" stroke="#d5c7e2" stroke-width="0.8"/>
<circle cx="336.02" cy="272.41" r="1.75" fill="#d5c7e2" stroke="none" stroke-width="0.8"/>
<line x1="349.12" y1="272.41" x2="349.12" y2="275.96" stroke="#d5c7e2" stroke-width="0.8"/>
<line x1="347.82" y1="272.41" x2="350.42" y2="272.41" stroke="#d5c7e2" stroke-width="0.8"/>
<line x1="347.82" y1="275.96" x2="350.42" y2="275.96" stroke="#d5c7e2" stroke-width="0.8"/>
<circle cx="349.12" cy="274.19" r="1.75" fill="#d5c7e2" stroke="none" stroke-width="0.8"/>
<line x1="362.22" y1="273.83" x2="362.22" y2="277.38" stroke="#d5c7e2" stroke-width="0.8"/>
<line x1="360.92" y1="273.83" x2="363.52" y2="273.83" stroke="#d5c7e2" stroke-width="0.8"/>
<line x1="360.92" y1="277.38" x2="363.52" y2="277.38" stroke="#d5c7e2" stroke-width="0.8"/>
<circle cx="362.22" cy="275.61" r="1.75" fill="#d5c7e2" stroke="none" stroke-width="0.8"/>
<circle cx="375.31" cy="290.16" r="1.75" fill="#d5c7e2" stroke="none" stroke-width="0.8"/>
<circle cx="388.41" cy="293.71" r="1.75" fill="#d5c7e2" stroke="none" stroke-width="0.8"/>
<circle cx="401.51" cy="294.07" r="1.75" fill="#d5c7e2" stroke="none" stroke-width="0.8"/>
<line x1="414.61" y1="241.53" x2="414.61" y2="251.47" stroke="#d5c7e2" stroke-width="0.8"/>
<line x1="413.31" y1="241.53" x2="415.91" y2="241.53" stroke="#d5c7e2" stroke-width="0.8"/>
<line x1="413.31" y1="251.47" x2="415.91" y2="251.47" stroke="#d5c7e2" stroke-width="0.8"/>
<circle cx="414.61" cy="246.50" r="1.75" fill="#d5c7e2" stroke="none" stroke-width="0.8"/>
<line x1="427.70" y1="264.96" x2="427.70" y2="270.64" stroke="#d5c7e2" stroke-width="0.8"/>
<line x1="426.40" y1="264.96" x2="429.00" y2="264.96" stroke="#d5c7e2" stroke-width="0.8"/>
<line x1="426.40" y1="270.64" x2="429.00" y2="270.64" stroke="#d5c7e2" stroke-width="0.8"/>
<circle cx="427.70" cy="267.80" r="1.75" fill="#d5c7e2" stroke="none" stroke-width="0.8"/>
<line x1="440.80" y1="274.19" x2="440.80" y2="278.45" stroke="#d5c7e2" stroke-width="0.8"/>
<line x1="439.50" y1="274.19" x2="442.10" y2="274.19" stroke="#d5c7e2" stroke-width="0.8"/>
<line x1="439.50" y1="278.45" x2="442.10" y2="278.45" stroke="#d5c7e2" stroke-width="0.8"/>
<circle cx="440.80" cy="276.32" r="1.75" fill="#d5c7e2" stroke="none" stroke-width="0.8"/>
<circle cx="453.90" cy="299.75" r="1.75" fill="#d5c7e2" stroke="none" stroke-width="0.8"/>
<circle cx="467.00" cy="300.10" r="1.75" fill="#d5c7e2" stroke="none" stroke-width="0.8"/>
<circle cx="480.09" cy="300.10" r="1.75" fill="#d5c7e2" stroke="none" stroke-width="0.8"/>
<polyline points="336.02,266.73 349.12,269.22 362.22,269.57 375.31,288.03 388.41,291.23 401.51,291.23 414.61,224.49 427.70,257.86 440.80,270.64 453.90,298.33 467.00,298.69 480.09,298.69" fill="none" stroke="#3e4a5e" stroke-width="1.1"/>
<line x1="336.02" y1="264.96" x2="336.02" y2="268.51" stroke="#3e4a5e" stroke-width="0.8"/>
<line x1="334.72" y1="264.96" x2="337.32" y2="264.96" stroke="#3e4a5e" stroke-width="0.8"/>
<line x1="334.72" y1="268.51" x2="337.32" y2="268.51" stroke="#3e4a5e" stroke-width="0.8"/>
<circle cx="336.02" cy="266.73" r="1.75" fill="#3e4a5e" stroke="none" stroke-width="0.8"/>
<line x1="349.12" y1="267.80" x2="349.12" y2="270.64" stroke="#3e4a5e" stroke-width="0.8"/>
<line x1="347.82" y1="267.80" x2="350.42" y2="267.80" stroke="#3e4a5e" stroke-width="0.8"/>
<line x1="347.82" y1="270.64" x2="350.42" y2="270.64" stroke="#3e4a5e" stroke-width="0.8"/>
<circle cx="349.12" cy="269.22" r="1.75" fill="#3e4a5e" stroke="none" stroke-width="0.8"/>
<line x1="362.22" y1="268.15" x2="362.22" y2="271.00" stroke="#3e4a5e" stroke-width="0.8"/>
<line x1="360.92" y1="268.15" x2="363.52" y2="268.15" stroke="#3e4a5e" stroke-width="0.8"/>
<line x1="360.92" y1="271.00" x2="363.52" y2="271.00" stroke="#3e4a5e" stroke-width="0.8"/>
<circle cx="362.22" cy="269.57" r="1.75" fill="#3e4a5e" stroke="none" stroke-width="0.8"/>
<circle cx="375.31" cy="288.03" r="1.75" fill="#3e4a5e" stroke="none" stroke-width="0.8"/>
<circle cx="388.41" cy="291.23" r="1.75" fill="#3e4a5e" stroke="none" stroke-width="0.8"/>
<circle cx="401.51" cy="291.23" r="1.75" fill="#3e4a5e" stroke="none" stroke-width="0.8"/>
<line x1="414.61" y1="219.52" x2="414.61" y2="229.46" stroke="#3e4a5e" stroke-width="0.8"/>
<line x1="413.31" y1="219.52" x2="415.91" y2="219.52" stroke="#3e4a5e" stroke-width="0.8"/>
<line x1="413.31" y1="229.46" x2="415.91" y2="229.46" stroke="#3e4a5e" stroke-width="0.8"/>
<circle cx="414.61" cy="224.49" r="1.75" fill="#3e4a5e" stroke="none" stroke-width="0.8"/>
<line x1="427.70" y1="255.37" x2="427.70" y2="260.34" stroke="#3e4a5e" stroke-width="0.8"/>
<line x1="426.40" y1="255.37" x2="429.00" y2="255.37" stroke="#3e4a5e" stroke-width="0.8"/>
<line x1="426.40" y1="260.34" x2="429.00" y2="260.34" stroke="#3e4a5e" stroke-width="0.8"/>
<circle cx="427.70" cy="257.86" r="1.75" fill="#3e4a5e" stroke="none" stroke-width="0.8"/>
<line x1="440.80" y1="268.51" x2="440.80" y2="272.77" stroke="#3e4a5e" stroke-width="0.8"/>
<line x1="439.50" y1="268.51" x2="442.10" y2="268.51" stroke="#3e4a5e" stroke-width="0.8"/>
<line x1="439.50" y1="272.77" x2="442.10" y2="272.77" stroke="#3e4a5e" stroke-width="0.8"/>
<circle cx="440.80" cy="270.64" r="1.75" fill="#3e4a5e" stroke="none" stroke-width="0.8"/>
<circle cx="453.90" cy="298.33" r="1.75" fill="#3e4a5e" stroke="none" stroke-width="0.8"/>
<circle cx="467.00" cy="298.69" r="1.75" fill="#3e4a5e" stroke="none" stroke-width="0.8"/>
<circle cx="480.09" cy="298.69" r="1.75" fill="#3e4a5e" stroke="none" stroke-width="0.8"/>
<line x1="453.70" y1="217.00" x2="465.00" y2="217.00" stroke="#3e4a5e" stroke-width="1.1"/>
<circle cx="459.40" cy="217.00" r="1.75" fill="#3e4a5e" stroke="none" stroke-width="0.8"/>
<text x="468.00" y="219.20" font-size="6.1" text-anchor="start" fill="#262626" stroke="#262626" stroke-width="0.16">Ctrl</text>
<line x1="453.70" y1="226.95" x2="465.00" y2="226.95" stroke="#d5c7e2" stroke-width="1.1"/>
<circle cx="459.40" cy="226.95" r="1.75" fill="#d5c7e2" stroke="none" stroke-width="0.8"/>
<text x="468.00" y="229.15" font-size="6.1" text-anchor="start" fill="#262626" stroke="#262626" stroke-width="0.16">2BP (10 µM)</text>
<line x1="453.70" y1="236.90" x2="465.00" y2="236.90" stroke="#a888b8" stroke-width="1.1"/>
<circle cx="459.40" cy="236.90" r="1.75" fill="#a888b8" stroke="none" stroke-width="0.8"/>
<text x="468.00" y="239.10" font-size="6.1" text-anchor="start" fill="#262626" stroke="#262626" stroke-width="0.16">2BP (20 µM)</text>
<line x1="453.70" y1="246.85" x2="465.00" y2="246.85" stroke="#7a4a8a" stroke-width="1.1"/>
<circle cx="459.40" cy="246.85" r="1.75" fill="#7a4a8a" stroke="none" stroke-width="0.8"/>
<text x="468.00" y="249.05" font-size="6.1" text-anchor="start" fill="#262626" stroke="#262626" stroke-width="0.16">2BP (40 µM)</text>
<line x1="453.70" y1="256.80" x2="465.00" y2="256.80" stroke="#4a1a58" stroke-width="1.1"/>
<circle cx="459.40" cy="256.80" r="1.75" fill="#4a1a58" stroke="none" stroke-width="0.8"/>
<text x="468.00" y="259.00" font-size="6.1" text-anchor="start" fill="#262626" stroke="#262626" stroke-width="0.16">2BP (60 µM)</text>
<text x="7.50" y="362.30" font-size="11.3" text-anchor="start" fill="#111" font-weight="bold" stroke="#111" stroke-width="0.35">F</text>
<text x="93.10" y="362.60" font-size="9.0" text-anchor="middle" fill="#222" textLength="75.4" lengthAdjust="spacingAndGlyphs">OXPHOS inhibition</text>
<text x="92.80" y="372.80" font-size="9.0" text-anchor="middle" fill="#222" textLength="82" lengthAdjust="spacingAndGlyphs">(siZDHHC screening)</text>
<rect x="37.40" y="378.30" width="55.80" height="55.30" fill="#f4d4cc"/>
<circle cx="78.50" cy="404.40" r="1.9" fill="#b01828" stroke="none" stroke-width="0.8"/>
<text x="77.90" y="412.20" font-size="3.7" text-anchor="middle" fill="#c03040">ZDHHC21</text>
<circle cx="129.20" cy="388.80" r="1.7" fill="none" stroke="#5aa85a" stroke-width="0.75"/>
<circle cx="128.20" cy="409.20" r="1.7" fill="none" stroke="#5aa85a" stroke-width="0.75"/>
<circle cx="119.70" cy="410.80" r="1.7" fill="none" stroke="#5aa85a" stroke-width="0.75"/>
<circle cx="140.30" cy="409.20" r="1.7" fill="none" stroke="#5aa85a" stroke-width="0.75"/>
<text x="129.20" y="395.50" font-size="3.9" text-anchor="middle" fill="#444">ZDHHC13</text>
<text x="126.50" y="405.30" font-size="3.9" text-anchor="middle" fill="#444">ZDHHC12</text>
<text x="119.50" y="417.00" font-size="3.9" text-anchor="middle" fill="#444">ZDHHC14</text>
<text x="137.50" y="415.00" font-size="3.9" text-anchor="middle" fill="#444">ZDHHC15</text>
<circle cx="55.80" cy="439.70" r="1.7" fill="none" stroke="#ebb266" stroke-width="0.75"/>
<circle cx="53.30" cy="446.10" r="1.7" fill="none" stroke="#ebb266" stroke-width="0.75"/>
<circle cx="72.60" cy="444.00" r="1.7" fill="none" stroke="#ebb266" stroke-width="0.75"/>
<circle cx="39.40" cy="462.70" r="1.7" fill="none" stroke="#ebb266" stroke-width="0.75"/>
<circle cx="72.60" cy="468.60" r="1.7" fill="none" stroke="#ebb266" stroke-width="0.75"/>
<text x="54.50" y="437.30" font-size="3.9" text-anchor="middle" fill="#444">ZDHHC2</text>
<text x="50.50" y="452.60" font-size="3.9" text-anchor="middle" fill="#444">ZDHHC19</text>
<text x="72.60" y="450.20" font-size="3.9" text-anchor="middle" fill="#444">ZDHHC3</text>
<text x="45.50" y="469.00" font-size="3.9" text-anchor="middle" fill="#444">ZDHHC6</text>
<text x="72.60" y="474.80" font-size="3.9" text-anchor="middle" fill="#444">ZDHHC20</text>
<circle cx="126.10" cy="437.80" r="1.7" fill="none" stroke="#4a70a8" stroke-width="0.75"/>
<circle cx="114.00" cy="441.80" r="1.7" fill="none" stroke="#4a70a8" stroke-width="0.75"/>
<circle cx="116.90" cy="444.10" r="1.7" fill="none" stroke="#4a70a8" stroke-width="0.75"/>
<circle cx="125.30" cy="450.90" r="1.7" fill="none" stroke="#4a70a8" stroke-width="0.75"/>
<circle cx="141.80" cy="450.90" r="1.7" fill="none" stroke="#4a70a8" stroke-width="0.75"/>
<circle cx="102.80" cy="457.90" r="1.7" fill="none" stroke="#4a70a8" stroke-width="0.75"/>
<circle cx="115.30" cy="462.00" r="1.7" fill="none" stroke="#4a70a8" stroke-width="0.75"/>
<circle cx="110.90" cy="474.40" r="1.7" fill="none" stroke="#4a70a8" stroke-width="0.75"/>
<circle cx="130.40" cy="476.50" r="1.7" fill="none" stroke="#4a70a8" stroke-width="0.75"/>
<circle cx="130.40" cy="478.20" r="1.7" fill="none" stroke="#4a70a8" stroke-width="0.75"/>
<circle cx="121.00" cy="486.30" r="1.7" fill="none" stroke="#4a70a8" stroke-width="0.75"/>
<text x="129.00" y="439.20" font-size="3.9" text-anchor="start" fill="#444">ZDHHC17</text>
<text x="129.00" y="443.60" font-size="3.9" text-anchor="start" fill="#444">ZDHHC5</text>
<text x="109.50" y="439.20" font-size="3.9" text-anchor="middle" fill="#444">ZDHHC4</text>
<text x="113.00" y="448.50" font-size="3.9" text-anchor="middle" fill="#444">ZDHHC9</text>
<text x="119.50" y="455.60" font-size="3.9" text-anchor="middle" fill="#444">ZDHHC8</text>
<text x="137.00" y="455.60" font-size="3.9" text-anchor="middle" fill="#444">ZDHHC24</text>
<text x="102.00" y="463.00" font-size="3.9" text-anchor="middle" fill="#444">ZDHHC1</text>
<text x="118.50" y="463.30" font-size="3.9" text-anchor="start" fill="#444">ZDHHC11</text>
<text x="118.50" y="467.60" font-size="3.9" text-anchor="start" fill="#444">ZDHHC18</text>
<text x="110.50" y="480.00" font-size="3.9" text-anchor="middle" fill="#444">ZDHHC16</text>
<text x="130.00" y="474.30" font-size="3.9" text-anchor="middle" fill="#444">ZDHHC7</text>
<text x="131.00" y="483.50" font-size="3.9" text-anchor="middle" fill="#444">ZDHHC23</text>
<text x="124.50" y="487.80" font-size="3.9" text-anchor="start" fill="#444">ZDHHC22</text>
<rect x="37.4" y="378.3" width="111.40" height="111.10" fill="none" stroke="#333" stroke-width="1.2"/>
<line x1="93.20" y1="378.30" x2="93.20" y2="489.40" stroke="#333" stroke-width="1.2"/>
<line x1="37.40" y1="433.60" x2="148.80" y2="433.60" stroke="#333" stroke-width="1.2"/>
<line x1="23.90" y1="395.40" x2="23.90" y2="471.40" stroke="#444" stroke-width="1"/>
<text x="33.20" y="406.30" font-size="6.6" text-anchor="middle" fill="#262626" transform="rotate(-90 33.2 406.3)" stroke="#262626" stroke-width="0.16">High</text>
<text x="33.20" y="461.30" font-size="6.6" text-anchor="middle" fill="#262626" transform="rotate(-90 33.2 461.3)" stroke="#262626" stroke-width="0.16">Low</text>
<text x="19.20" y="431.00" font-size="6.6" text-anchor="middle" fill="#262626" transform="rotate(-90 19.2 431)" stroke="#262626" stroke-width="0.16">AML</text>
<text x="65.20" y="498.40" font-size="6.6" text-anchor="middle" fill="#262626" stroke="#262626" stroke-width="0.16">Low</text>
<text x="121.00" y="498.40" font-size="6.6" text-anchor="middle" fill="#262626" stroke="#262626" stroke-width="0.16">High</text>
<line x1="51.50" y1="503.20" x2="135.80" y2="503.20" stroke="#444" stroke-width="1"/>
<text x="93.50" y="511.60" font-size="6.6" text-anchor="middle" fill="#262626" stroke="#262626" stroke-width="0.16">HSC</text>
<text x="165.30" y="362.00" font-size="11.3" text-anchor="start" fill="#111" font-weight="bold" stroke="#111" stroke-width="0.35">G</text>
<text x="229.60" y="372.80" font-size="6.6" text-anchor="middle" fill="#262626" stroke="#262626" stroke-width="0.16">shZDHHC21</text>
<line x1="211.00" y1="376.20" x2="248.50" y2="376.20" stroke="#333" stroke-width="0.9"/>
<text x="216.20" y="383.60" font-size="6.6" text-anchor="middle" fill="#262626" stroke="#262626" stroke-width="0.16">·</text>
<text x="230.60" y="383.60" font-size="6.6" text-anchor="middle" fill="#262626" stroke="#262626" stroke-width="0.16">#1</text>
<text x="243.60" y="383.60" font-size="6.6" text-anchor="middle" fill="#262626" stroke="#262626" stroke-width="0.16">#2</text>
<rect x="209.4" y="386.5" width="41.2" height="11" fill="#e6e6e6" stroke="#444" stroke-width="0.9"/>
<rect x="209.4" y="397.6" width="41.2" height="2.1" fill="#b9b9b9"/>
<rect x="209.4" y="399.8" width="41.2" height="11.3" fill="#ececec" stroke="#444" stroke-width="0.9"/>
<defs><filter id="bl" x="-20%" y="-50%" width="140%" height="200%"><feGaussianBlur stdDeviation="0.7"/></filter></defs>
<ellipse cx="216.8" cy="391.8" rx="6.3" ry="2.4" fill="#111" filter="url(#bl)"/>
<ellipse cx="230.5" cy="392.6" rx="6.0" ry="1.6" fill="#a8a8a8" filter="url(#bl)"/>
<ellipse cx="243.5" cy="392.4" rx="6.0" ry="2.0" fill="#999" filter="url(#bl)"/>
<ellipse cx="216.3" cy="405.5" rx="7.2" ry="1.2" fill="#3a3a3a" filter="url(#bl)"/>
<ellipse cx="230.0" cy="405.5" rx="7.2" ry="1.2" fill="#3a3a3a" filter="url(#bl)"/>
<ellipse cx="243.6" cy="405.5" rx="7.2" ry="1.2" fill="#3a3a3a" filter="url(#bl)"/>
<text x="206.80" y="394.50" font-size="6.6" text-anchor="end" fill="#262626" stroke="#262626" stroke-width="0.16">ZDHHC21</text>
<text x="206.80" y="407.80" font-size="6.6" text-anchor="end" fill="#262626" stroke="#262626" stroke-width="0.16">GAPDH</text>
<line x1="201.50" y1="419.60" x2="201.50" y2="489.20" stroke="#2a2a2a" stroke-width="1.1"/>
<line x1="201.00" y1="489.20" x2="245.20" y2="489.20" stroke="#2a2a2a" stroke-width="1.1"/>
<line x1="198.40" y1="421.70" x2="201.50" y2="421.70" stroke="#2a2a2a" stroke-width="1.0"/>
<text x="196.00" y="424.10" font-size="6.8" text-anchor="end" fill="#262626" stroke="#262626" stroke-width="0.16">1.0</text>
<line x1="198.40" y1="455.45" x2="201.50" y2="455.45" stroke="#2a2a2a" stroke-width="1.0"/>
<text x="196.00" y="457.85" font-size="6.8" text-anchor="end" fill="#262626" stroke="#262626" stroke-width="0.16">0.5</text>
<line x1="198.40" y1="489.20" x2="201.50" y2="489.20" stroke="#2a2a2a" stroke-width="1.0"/>
<text x="196.00" y="491.60" font-size="6.8" text-anchor="end" fill="#262626" stroke="#262626" stroke-width="0.16">0.0</text>
<text x="181.20" y="453.20" font-size="6.9" text-anchor="middle" fill="#262626" transform="rotate(-90 181.2 453.2)" textLength="54" lengthAdjust="spacingAndGlyphs" stroke="#262626" stroke-width="0.16">Relative ATP level</text>
<rect x="206.80" y="421.70" width="10.10" height="67.50" fill="#9282c4"/>
<circle cx="208.85" cy="421.70" r="1.5" fill="#111" stroke="none" stroke-width="0.8"/>
<circle cx="211.85" cy="421.70" r="1.5" fill="#111" stroke="none" stroke-width="0.8"/>
<circle cx="214.85" cy="421.70" r="1.5" fill="#111" stroke="none" stroke-width="0.8"/>
<line x1="211.85" y1="489.20" x2="211.85" y2="491.60" stroke="#2a2a2a" stroke-width="1.0"/>
<rect x="220.40" y="439.60" width="10.10" height="49.60" fill="#1b4a7d"/>
<line x1="225.45" y1="438.60" x2="225.45" y2="440.50" stroke="#111" stroke-width="1.1"/>
<line x1="223.55" y1="438.60" x2="227.35" y2="438.60" stroke="#111" stroke-width="1.2"/>
<line x1="223.55" y1="440.50" x2="227.35" y2="440.50" stroke="#111" stroke-width="1.2"/>
<circle cx="222.85" cy="434.20" r="0.95" fill="#2a2a2a" stroke="none" stroke-width="0.8"/>
<circle cx="225.45" cy="434.20" r="0.95" fill="#2a2a2a" stroke="none" stroke-width="0.8"/>
<circle cx="228.05" cy="434.20" r="0.95" fill="#2a2a2a" stroke="none" stroke-width="0.8"/>
<circle cx="222.65" cy="439.80" r="1.5" fill="#111" stroke="none" stroke-width="0.8"/>
<circle cx="225.45" cy="439.30" r="1.5" fill="#111" stroke="none" stroke-width="0.8"/>
<circle cx="228.25" cy="439.60" r="1.5" fill="#111" stroke="none" stroke-width="0.8"/>
<line x1="225.45" y1="489.20" x2="225.45" y2="491.60" stroke="#2a2a2a" stroke-width="1.0"/>
<rect x="234.00" y="438.80" width="10.10" height="50.40" fill="#2fa4dc"/>
<line x1="239.05" y1="434.80" x2="239.05" y2="443.50" stroke="#111" stroke-width="1.1"/>
<line x1="237.15" y1="434.80" x2="240.95" y2="434.80" stroke="#111" stroke-width="1.2"/>
<line x1="237.15" y1="443.50" x2="240.95" y2="443.50" stroke="#111" stroke-width="1.2"/>
<circle cx="237.75" cy="430.30" r="0.95" fill="#2a2a2a" stroke="none" stroke-width="0.8"/>
<circle cx="240.35" cy="430.30" r="0.95" fill="#2a2a2a" stroke="none" stroke-width="0.8"/>
<circle cx="239.05" cy="435.80" r="1.5" fill="#111" stroke="none" stroke-width="0.8"/>
<circle cx="239.05" cy="439.60" r="1.5" fill="#111" stroke="none" stroke-width="0.8"/>
<circle cx="239.05" cy="442.80" r="1.5" fill="#111" stroke="none" stroke-width="0.8"/>
<line x1="239.05" y1="489.20" x2="239.05" y2="491.60" stroke="#2a2a2a" stroke-width="1.0"/>
<text x="212.00" y="501.30" font-size="6.4" text-anchor="middle" fill="#262626" stroke="#262626" stroke-width="0.16">-</text>
<text x="225.50" y="501.30" font-size="6.4" text-anchor="middle" fill="#262626" stroke="#262626" stroke-width="0.16">#1</text>
<text x="239.00" y="501.30" font-size="6.4" text-anchor="middle" fill="#262626" stroke="#262626" stroke-width="0.16">#2</text>
<line x1="206.00" y1="506.00" x2="244.40" y2="506.00" stroke="#333" stroke-width="0.9"/>
<text x="225.50" y="514.20" font-size="6.6" text-anchor="middle" fill="#262626" stroke="#262626" stroke-width="0.16">shZDHHC21</text>
<text x="269.00" y="362.40" font-size="11.3" text-anchor="start" fill="#111" font-weight="bold" stroke="#111" stroke-width="0.35">H</text>
<line x1="304.40" y1="378.50" x2="304.40" y2="476.20" stroke="#2a2a2a" stroke-width="1.1"/>
<line x1="303.90" y1="476.20" x2="510.30" y2="476.20" stroke="#2a2a2a" stroke-width="1.1"/>
<line x1="301.20" y1="476.20" x2="304.40" y2="476.20" stroke="#2a2a2a" stroke-width="1.0"/>
<text x="298.20" y="478.60" font-size="6.9" text-anchor="end" fill="#262626" stroke="#262626" stroke-width="0.16">0</text>
<line x1="301.20" y1="444.20" x2="304.40" y2="444.20" stroke="#2a2a2a" stroke-width="1.0"/>
<text x="298.20" y="446.60" font-size="6.9" text-anchor="end" fill="#262626" stroke="#262626" stroke-width="0.16">10</text>
<line x1="301.20" y1="412.20" x2="304.40" y2="412.20" stroke="#2a2a2a" stroke-width="1.0"/>
<text x="298.20" y="414.60" font-size="6.9" text-anchor="end" fill="#262626" stroke="#262626" stroke-width="0.16">20</text>
<line x1="301.20" y1="380.20" x2="304.40" y2="380.20" stroke="#2a2a2a" stroke-width="1.0"/>
<text x="298.20" y="382.60" font-size="6.9" text-anchor="end" fill="#262626" stroke="#262626" stroke-width="0.16">30</text>
<text x="285.60" y="427.20" font-size="7.0" text-anchor="middle" fill="#262626" transform="rotate(-90 285.6 427.2)" textLength="88" lengthAdjust="spacingAndGlyphs" stroke="#262626" stroke-width="0.16">Fold change (AML vs. normal)</text>
<rect x="306.85" y="398.44" width="5.70" height="77.76" fill="#c8102e"/>
<line x1="309.70" y1="476.20" x2="309.70" y2="478.40" stroke="#2a2a2a" stroke-width="0.8"/>
<text x="311.70" y="485.40" font-size="6.4" text-anchor="end" fill="#c8102e" transform="rotate(-45 311.7 485.4)" stroke="#c8102e" stroke-width="0.16">ZDHHC1</text>
<rect x="315.60" y="462.12" width="5.70" height="14.08" fill="#46556a"/>
<line x1="318.45" y1="476.20" x2="318.45" y2="478.40" stroke="#2a2a2a" stroke-width="0.8"/>
<text x="320.45" y="485.40" font-size="6.4" text-anchor="end" fill="#262626" transform="rotate(-45 320.455 485.4)" stroke="#262626" stroke-width="0.16">ZDHHC2</text>
<rect x="324.36" y="473.00" width="5.70" height="3.20" fill="#46556a"/>
<line x1="327.21" y1="476.20" x2="327.21" y2="478.40" stroke="#2a2a2a" stroke-width="0.8"/>
<text x="329.21" y="485.40" font-size="6.4" text-anchor="end" fill="#262626" transform="rotate(-45 329.21 485.4)" stroke="#262626" stroke-width="0.16">ZDHHC3</text>
<rect x="333.11" y="474.60" width="5.70" height="1.60" fill="#46556a"/>
<line x1="335.96" y1="476.20" x2="335.96" y2="478.40" stroke="#2a2a2a" stroke-width="0.8"/>
<text x="337.96" y="485.40" font-size="6.4" text-anchor="end" fill="#262626" transform="rotate(-45 337.965 485.4)" stroke="#262626" stroke-width="0.16">ZDHHC4</text>
<rect x="341.87" y="472.36" width="5.70" height="3.84" fill="#46556a"/>
<line x1="344.72" y1="476.20" x2="344.72" y2="478.40" stroke="#2a2a2a" stroke-width="0.8"/>
<text x="346.72" y="485.40" font-size="6.4" text-anchor="end" fill="#262626" transform="rotate(-45 346.71999999999997 485.4)" stroke="#262626" stroke-width="0.16">ZDHHC5</text>
<rect x="350.62" y="467.24" width="5.70" height="8.96" fill="#46556a"/>
<line x1="353.48" y1="476.20" x2="353.48" y2="478.40" stroke="#2a2a2a" stroke-width="0.8"/>
<text x="355.48" y="485.40" font-size="6.4" text-anchor="end" fill="#262626" transform="rotate(-45 355.475 485.4)" stroke="#262626" stroke-width="0.16">ZDHHC6</text>
<rect x="359.38" y="473.96" width="5.70" height="2.24" fill="#46556a"/>
<line x1="362.23" y1="476.20" x2="362.23" y2="478.40" stroke="#2a2a2a" stroke-width="0.8"/>
<text x="364.23" y="485.40" font-size="6.4" text-anchor="end" fill="#262626" transform="rotate(-45 364.23 485.4)" stroke="#262626" stroke-width="0.16">ZDHHC7</text>
<rect x="368.13" y="472.36" width="5.70" height="3.84" fill="#46556a"/>
<line x1="370.99" y1="476.20" x2="370.99" y2="478.40" stroke="#2a2a2a" stroke-width="0.8"/>
<text x="372.99" y="485.40" font-size="6.4" text-anchor="end" fill="#262626" transform="rotate(-45 372.985 485.4)" stroke="#262626" stroke-width="0.16">ZDHHC8</text>
<rect x="376.89" y="473.96" width="5.70" height="2.24" fill="#46556a"/>
<line x1="379.74" y1="476.20" x2="379.74" y2="478.40" stroke="#2a2a2a" stroke-width="0.8"/>
<text x="381.74" y="485.40" font-size="6.4" text-anchor="end" fill="#262626" transform="rotate(-45 381.74 485.4)" stroke="#262626" stroke-width="0.16">ZDHHC9</text>
<rect x="385.64" y="469.80" width="5.70" height="6.40" fill="#46556a"/>
<line x1="388.50" y1="476.20" x2="388.50" y2="478.40" stroke="#2a2a2a" stroke-width="0.8"/>
<text x="390.50" y="485.40" font-size="6.4" text-anchor="end" fill="#262626" transform="rotate(-45 390.495 485.4)" stroke="#262626" stroke-width="0.16">ZDHHC11</text>
<rect x="394.40" y="473.00" width="5.70" height="3.20" fill="#46556a"/>
<line x1="397.25" y1="476.20" x2="397.25" y2="478.40" stroke="#2a2a2a" stroke-width="0.8"/>
<text x="399.25" y="485.40" font-size="6.4" text-anchor="end" fill="#262626" transform="rotate(-45 399.25 485.4)" stroke="#262626" stroke-width="0.16">ZDHHC12</text>
<rect x="403.15" y="470.44" width="5.70" height="5.76" fill="#46556a"/>
<line x1="406.00" y1="476.20" x2="406.00" y2="478.40" stroke="#2a2a2a" stroke-width="0.8"/>
<text x="408.00" y="485.40" font-size="6.4" text-anchor="end" fill="#262626" transform="rotate(-45 408.005 485.4)" stroke="#262626" stroke-width="0.16">ZDHHC13</text>
<rect x="411.91" y="473.96" width="5.70" height="2.24" fill="#46556a"/>
<line x1="414.76" y1="476.20" x2="414.76" y2="478.40" stroke="#2a2a2a" stroke-width="0.8"/>
<text x="416.76" y="485.40" font-size="6.4" text-anchor="end" fill="#262626" transform="rotate(-45 416.76 485.4)" stroke="#262626" stroke-width="0.16">ZDHHC14</text>
<rect x="420.66" y="458.28" width="5.70" height="17.92" fill="#46556a"/>
<line x1="423.51" y1="476.20" x2="423.51" y2="478.40" stroke="#2a2a2a" stroke-width="0.8"/>
<text x="425.51" y="485.40" font-size="6.4" text-anchor="end" fill="#262626" transform="rotate(-45 425.515 485.4)" stroke="#262626" stroke-width="0.16">ZDHHC15</text>
<rect x="429.42" y="469.80" width="5.70" height="6.40" fill="#46556a"/>
<line x1="432.27" y1="476.20" x2="432.27" y2="478.40" stroke="#2a2a2a" stroke-width="0.8"/>
<text x="434.27" y="485.40" font-size="6.4" text-anchor="end" fill="#262626" transform="rotate(-45 434.27 485.4)" stroke="#262626" stroke-width="0.16">ZDHHC16</text>
<rect x="438.17" y="471.08" width="5.70" height="5.12" fill="#46556a"/>
<line x1="441.02" y1="476.20" x2="441.02" y2="478.40" stroke="#2a2a2a" stroke-width="0.8"/>
<text x="443.02" y="485.40" font-size="6.4" text-anchor="end" fill="#262626" transform="rotate(-45 443.025 485.4)" stroke="#262626" stroke-width="0.16">ZDHHC17</text>
<rect x="446.93" y="473.32" width="5.70" height="2.88" fill="#46556a"/>
<line x1="449.78" y1="476.20" x2="449.78" y2="478.40" stroke="#2a2a2a" stroke-width="0.8"/>
<text x="451.78" y="485.40" font-size="6.4" text-anchor="end" fill="#262626" transform="rotate(-45 451.78 485.4)" stroke="#262626" stroke-width="0.16">ZDHHC18</text>
<line x1="458.53" y1="476.20" x2="458.53" y2="478.40" stroke="#2a2a2a" stroke-width="0.8"/>
<text x="460.53" y="485.40" font-size="6.4" text-anchor="end" fill="#262626" transform="rotate(-45 460.53499999999997 485.4)" stroke="#262626" stroke-width="0.16">ZDHHC19</text>
<rect x="464.44" y="462.12" width="5.70" height="14.08" fill="#46556a"/>
<line x1="467.29" y1="476.20" x2="467.29" y2="478.40" stroke="#2a2a2a" stroke-width="0.8"/>
<text x="469.29" y="485.40" font-size="6.4" text-anchor="end" fill="#262626" transform="rotate(-45 469.28999999999996 485.4)" stroke="#262626" stroke-width="0.16">ZDHHC20</text>
<rect x="473.19" y="439.08" width="5.70" height="37.12" fill="#c8102e"/>
<line x1="476.05" y1="476.20" x2="476.05" y2="478.40" stroke="#2a2a2a" stroke-width="0.8"/>
<text x="478.05" y="485.40" font-size="6.4" text-anchor="end" fill="#c8102e" transform="rotate(-45 478.045 485.4)" stroke="#c8102e" stroke-width="0.16">ZDHHC21</text>
<rect x="481.95" y="473.64" width="5.70" height="2.56" fill="#46556a"/>
<line x1="484.80" y1="476.20" x2="484.80" y2="478.40" stroke="#2a2a2a" stroke-width="0.8"/>
<text x="486.80" y="485.40" font-size="6.4" text-anchor="end" fill="#262626" transform="rotate(-45 486.8 485.4)" stroke="#262626" stroke-width="0.16">ZDHHC22</text>
<rect x="490.70" y="424.68" width="5.70" height="51.52" fill="#c8102e"/>
<line x1="493.56" y1="476.20" x2="493.56" y2="478.40" stroke="#2a2a2a" stroke-width="0.8"/>
<text x="495.56" y="485.40" font-size="6.4" text-anchor="end" fill="#c8102e" transform="rotate(-45 495.555 485.4)" stroke="#c8102e" stroke-width="0.16">ZDHHC23</text>
<rect x="499.46" y="466.92" width="5.70" height="9.28" fill="#46556a"/>
<line x1="502.31" y1="476.20" x2="502.31" y2="478.40" stroke="#2a2a2a" stroke-width="0.8"/>
<text x="504.31" y="485.40" font-size="6.4" text-anchor="end" fill="#262626" transform="rotate(-45 504.31 485.4)" stroke="#262626" stroke-width="0.16">ZDHHC24</text>
<line x1="300.50" y1="444.20" x2="507.00" y2="444.20" stroke="#222" stroke-width="1.1" stroke-dasharray="2.9,3.2"/>
<ellipse cx="357.7" cy="377" rx="15.4" ry="9.2" fill="#e8a497"/>
<ellipse cx="412" cy="371" rx="9.8" ry="3.6" fill="#e8a497"/>
<line x1="397.70" y1="401.20" x2="377.70" y2="366.90" stroke="#151515" stroke-width="0.95"/>
<line x1="395.40" y1="399.70" x2="371.50" y2="376.20" stroke="#151515" stroke-width="0.95"/>
<line x1="393.10" y1="398.50" x2="361.50" y2="383.10" stroke="#151515" stroke-width="0.95"/>
<line x1="391.50" y1="404.90" x2="360.00" y2="393.50" stroke="#151515" stroke-width="0.95"/>
<line x1="391.50" y1="404.90" x2="350.00" y2="404.60" stroke="#151515" stroke-width="0.95"/>
<line x1="397.70" y1="401.20" x2="391.50" y2="404.90" stroke="#151515" stroke-width="0.95"/>
<line x1="391.50" y1="404.90" x2="390.00" y2="407.70" stroke="#151515" stroke-width="0.95"/>
<line x1="390.00" y1="407.70" x2="363.10" y2="420.30" stroke="#151515" stroke-width="0.95"/>
<line x1="363.10" y1="420.30" x2="357.00" y2="419.50" stroke="#151515" stroke-width="0.95"/>
<line x1="363.10" y1="420.30" x2="358.50" y2="423.40" stroke="#151515" stroke-width="0.95"/>
<line x1="390.00" y1="407.70" x2="388.50" y2="435.40" stroke="#151515" stroke-width="0.95"/>
<line x1="388.90" y1="416.90" x2="376.90" y2="426.20" stroke="#151515" stroke-width="0.95"/>
<line x1="389.20" y1="422.30" x2="403.80" y2="431.10" stroke="#151515" stroke-width="0.95"/>
<line x1="397.70" y1="401.20" x2="402.30" y2="399.70" stroke="#151515" stroke-width="0.95"/>
<line x1="404.60" y1="399.20" x2="400.80" y2="366.90" stroke="#151515" stroke-width="0.95"/>
<line x1="402.30" y1="376.20" x2="406.20" y2="373.10" stroke="#151515" stroke-width="0.95"/>
<line x1="407.70" y1="398.50" x2="417.70" y2="376.20" stroke="#151515" stroke-width="0.95"/>
<line x1="402.30" y1="399.70" x2="440.80" y2="384.60" stroke="#151515" stroke-width="0.95"/>
<line x1="423.10" y1="389.20" x2="426.20" y2="386.50" stroke="#151515" stroke-width="0.95"/>
<line x1="414.60" y1="396.90" x2="440.80" y2="391.50" stroke="#151515" stroke-width="0.95"/>
<line x1="436.20" y1="392.30" x2="444.60" y2="392.80" stroke="#151515" stroke-width="0.95"/>
<line x1="413.10" y1="397.70" x2="440.80" y2="397.70" stroke="#151515" stroke-width="0.95"/>
<line x1="402.30" y1="399.20" x2="447.70" y2="403.80" stroke="#151515" stroke-width="0.95"/>
<line x1="403.10" y1="402.30" x2="434.60" y2="412.30" stroke="#151515" stroke-width="0.95"/>
<line x1="403.10" y1="403.10" x2="430.00" y2="415.40" stroke="#151515" stroke-width="0.95"/>
<line x1="411.50" y1="416.90" x2="433.10" y2="423.80" stroke="#151515" stroke-width="0.95"/>
<line x1="402.30" y1="403.10" x2="418.50" y2="430.00" stroke="#151515" stroke-width="0.95"/>
<text x="373.00" y="366.10" font-size="4.4" text-anchor="middle" fill="#3a3a3a">ZDHHC12</text>
<text x="403.00" y="366.10" font-size="4.4" text-anchor="middle" fill="#3a3a3a">ZDHHC11</text>
<text x="412.00" y="372.60" font-size="4.4" text-anchor="middle" fill="#3a3a3a">ZDHHC3</text>
<text x="426.50" y="377.90" font-size="4.4" text-anchor="middle" fill="#3a3a3a">ZDHHC4</text>
<text x="362.00" y="376.30" font-size="4.4" text-anchor="middle" fill="#3a3a3a">ZDHHC21</text>
<text x="357.00" y="382.20" font-size="4.4" text-anchor="middle" fill="#3a3a3a">ZDHHC23</text>
<text x="427.50" y="386.30" font-size="4.4" text-anchor="middle" fill="#3a3a3a">ZDHHC5</text>
<text x="452.00" y="384.70" font-size="4.4" text-anchor="middle" fill="#3a3a3a">ZDHHC8</text>
<text x="453.00" y="390.60" font-size="4.4" text-anchor="middle" fill="#3a3a3a">ZDHHC14</text>
<text x="457.70" y="394.70" font-size="4.4" text-anchor="middle" fill="#3a3a3a">ZDHHC18</text>
<text x="451.00" y="399.90" font-size="4.4" text-anchor="middle" fill="#3a3a3a">ZDHHC9</text>
<text x="458.00" y="405.50" font-size="4.4" text-anchor="middle" fill="#3a3a3a">ZDHHC19</text>
<text x="350.20" y="394.70" font-size="4.4" text-anchor="middle" fill="#3a3a3a">ZDHHC16</text>
<text x="342.30" y="406.30" font-size="4.4" text-anchor="middle" fill="#3a3a3a">ZDHHC6</text>
<text x="447.00" y="414.00" font-size="4.4" text-anchor="middle" fill="#3a3a3a">ZDHHC24</text>
<text x="441.50" y="419.90" font-size="4.4" text-anchor="middle" fill="#3a3a3a">ZDHHC22</text>
<text x="443.80" y="427.10" font-size="4.4" text-anchor="middle" fill="#3a3a3a">ZDHHC17</text>
<text x="348.00" y="421.40" font-size="4.4" text-anchor="middle" fill="#3a3a3a">ZDHHC7</text>
<text x="349.20" y="427.50" font-size="4.4" text-anchor="middle" fill="#3a3a3a">ZDHHC1</text>
<text x="372.00" y="431.70" font-size="4.4" text-anchor="middle" fill="#3a3a3a">ZDHHC20</text>
<text x="383.00" y="439.40" font-size="4.4" text-anchor="middle" fill="#3a3a3a">ZDHHC15</text>
<text x="402.30" y="436.70" font-size="4.4" text-anchor="middle" fill="#3a3a3a">ZDHHC2</text>
<text x="426.00" y="435.20" font-size="4.4" text-anchor="middle" fill="#3a3a3a">ZDHHC13</text>
<text x="7.00" y="541.30" font-size="11.3" text-anchor="start" fill="#111" font-weight="bold" stroke="#111" stroke-width="0.35">I</text>
<rect x="43.60" y="592.60" width="6.88" height="22.50" fill="#f2eedf" shape-rendering="crispEdges"/>
<rect x="50.43" y="592.60" width="6.88" height="22.50" fill="#eae4cf" shape-rendering="crispEdges"/>
<rect x="57.25" y="592.60" width="6.88" height="22.50" fill="#e8e1ca" shape-rendering="crispEdges"/>
<rect x="64.08" y="592.60" width="6.88" height="22.50" fill="#ede7d5" shape-rendering="crispEdges"/>
<rect x="70.90" y="592.60" width="6.88" height="22.50" fill="#ede7d5" shape-rendering="crispEdges"/>
<rect x="77.73" y="592.60" width="6.88" height="22.50" fill="#e8e1ca" shape-rendering="crispEdges"/>
<rect x="84.55" y="592.60" width="6.88" height="22.50" fill="#e3dabf" shape-rendering="crispEdges"/>
<rect x="91.38" y="592.60" width="6.88" height="22.50" fill="#eae4cf" shape-rendering="crispEdges"/>
<rect x="98.21" y="592.60" width="6.88" height="22.50" fill="#e0d7ba" shape-rendering="crispEdges"/>
<rect x="105.03" y="592.60" width="6.88" height="22.50" fill="#ece6d2" shape-rendering="crispEdges"/>
<rect x="111.86" y="592.60" width="6.88" height="22.50" fill="#eae4cf" shape-rendering="crispEdges"/>
<rect x="118.68" y="592.60" width="6.88" height="22.50" fill="#ece6d2" shape-rendering="crispEdges"/>
<rect x="125.51" y="592.60" width="6.88" height="22.50" fill="#efeada" shape-rendering="crispEdges"/>
<rect x="132.34" y="592.60" width="6.88" height="22.50" fill="#ede7d5" shape-rendering="crispEdges"/>
<rect x="139.16" y="592.60" width="6.88" height="22.50" fill="#efeada" shape-rendering="crispEdges"/>
<rect x="145.99" y="592.60" width="6.88" height="22.50" fill="#f2eedf" shape-rendering="crispEdges"/>
<rect x="152.81" y="592.60" width="6.88" height="22.50" fill="#ccbd8f" shape-rendering="crispEdges"/>
<rect x="159.64" y="592.60" width="6.88" height="22.50" fill="#eae4cf" shape-rendering="crispEdges"/>
<rect x="166.46" y="592.60" width="6.88" height="22.50" fill="#eee8d7" shape-rendering="crispEdges"/>
<rect x="173.29" y="592.60" width="6.88" height="22.50" fill="#f2eedf" shape-rendering="crispEdges"/>
<rect x="180.12" y="592.60" width="6.88" height="22.50" fill="#e8e1ca" shape-rendering="crispEdges"/>
<rect x="186.94" y="592.60" width="6.88" height="22.50" fill="#eee8d7" shape-rendering="crispEdges"/>
<rect x="193.77" y="592.60" width="6.88" height="22.50" fill="#f1ecdd" shape-rendering="crispEdges"/>
<rect x="200.59" y="592.60" width="6.88" height="22.50" fill="#ded4b4" shape-rendering="crispEdges"/>
<rect x="207.42" y="592.60" width="6.88" height="22.50" fill="#f4f0e4" shape-rendering="crispEdges"/>
<rect x="214.25" y="592.60" width="6.88" height="22.50" fill="#e4dbc1" shape-rendering="crispEdges"/>
<rect x="221.07" y="592.60" width="6.88" height="22.50" fill="#f5f2e7" shape-rendering="crispEdges"/>
<rect x="227.90" y="592.60" width="6.88" height="22.50" fill="#ede7d5" shape-rendering="crispEdges"/>
<rect x="234.72" y="592.60" width="6.88" height="22.50" fill="#efeada" shape-rendering="crispEdges"/>
<rect x="241.55" y="592.60" width="6.88" height="22.50" fill="#eae4cf" shape-rendering="crispEdges"/>
<rect x="248.37" y="592.60" width="6.88" height="22.50" fill="#f1ecdd" shape-rendering="crispEdges"/>
<rect x="43.60" y="615.10" width="6.88" height="22.20" fill="#1270c0" shape-rendering="crispEdges"/>
<rect x="50.43" y="615.10" width="6.88" height="22.20" fill="#1f84cc" shape-rendering="crispEdges"/>
<rect x="57.25" y="615.10" width="6.88" height="22.20" fill="#2088ce" shape-rendering="crispEdges"/>
<rect x="64.08" y="615.10" width="6.88" height="22.20" fill="#2088ce" shape-rendering="crispEdges"/>
<rect x="70.90" y="615.10" width="6.88" height="22.20" fill="#248bd0" shape-rendering="crispEdges"/>
<rect x="77.73" y="615.10" width="6.88" height="22.20" fill="#78b9e3" shape-rendering="crispEdges"/>
<rect x="84.55" y="615.10" width="6.88" height="22.20" fill="#7abae3" shape-rendering="crispEdges"/>
<rect x="91.38" y="615.10" width="6.88" height="22.20" fill="#7cbbe4" shape-rendering="crispEdges"/>
<rect x="98.21" y="615.10" width="6.88" height="22.20" fill="#7dbce4" shape-rendering="crispEdges"/>
<rect x="105.03" y="615.10" width="6.88" height="22.20" fill="#7fbde5" shape-rendering="crispEdges"/>
<rect x="111.86" y="615.10" width="6.88" height="22.20" fill="#81bee5" shape-rendering="crispEdges"/>
<rect x="118.68" y="615.10" width="6.88" height="22.20" fill="#82bee6" shape-rendering="crispEdges"/>
<rect x="125.51" y="615.10" width="6.88" height="22.20" fill="#84bfe6" shape-rendering="crispEdges"/>
<rect x="132.34" y="615.10" width="6.88" height="22.20" fill="#86c0e7" shape-rendering="crispEdges"/>
<rect x="139.16" y="615.10" width="6.88" height="22.20" fill="#88c1e7" shape-rendering="crispEdges"/>
<rect x="145.99" y="615.10" width="6.88" height="22.20" fill="#8ac2e8" shape-rendering="crispEdges"/>
<rect x="152.81" y="615.10" width="6.88" height="22.20" fill="#8bc3e8" shape-rendering="crispEdges"/>
<rect x="159.64" y="615.10" width="6.88" height="22.20" fill="#8dc4e8" shape-rendering="crispEdges"/>
<rect x="166.46" y="615.10" width="6.88" height="22.20" fill="#8fc5e9" shape-rendering="crispEdges"/>
<rect x="173.29" y="615.10" width="6.88" height="22.20" fill="#90c6e9" shape-rendering="crispEdges"/>
<rect x="180.12" y="615.10" width="6.88" height="22.20" fill="#92c7ea" shape-rendering="crispEdges"/>
<rect x="186.94" y="615.10" width="6.88" height="22.20" fill="#94c8ea" shape-rendering="crispEdges"/>
<rect x="193.77" y="615.10" width="6.88" height="22.20" fill="#96c9eb" shape-rendering="crispEdges"/>
<rect x="200.59" y="615.10" width="6.88" height="22.20" fill="#98caeb" shape-rendering="crispEdges"/>
<rect x="207.42" y="615.10" width="6.88" height="22.20" fill="#99caec" shape-rendering="crispEdges"/>
<rect x="214.25" y="615.10" width="6.88" height="22.20" fill="#9bcbec" shape-rendering="crispEdges"/>
<rect x="221.07" y="615.10" width="6.88" height="22.20" fill="#9dcced" shape-rendering="crispEdges"/>
<rect x="227.90" y="615.10" width="6.88" height="22.20" fill="#9ecded" shape-rendering="crispEdges"/>
<rect x="234.72" y="615.10" width="6.88" height="22.20" fill="#a0ceee" shape-rendering="crispEdges"/>
<rect x="241.55" y="615.10" width="6.88" height="22.20" fill="#a2cfee" shape-rendering="crispEdges"/>
<rect x="248.37" y="615.10" width="6.88" height="22.20" fill="#cfe5f5" shape-rendering="crispEdges"/>
<rect x="43.60" y="637.30" width="6.88" height="21.50" fill="#8fd0a8" shape-rendering="crispEdges"/>
<rect x="50.43" y="637.30" width="6.88" height="21.50" fill="#eef6ee" shape-rendering="crispEdges"/>
<rect x="57.25" y="637.30" width="6.88" height="21.50" fill="#a8d8b8" shape-rendering="crispEdges"/>
<rect x="64.08" y="637.30" width="6.88" height="21.50" fill="#d0ead8" shape-rendering="crispEdges"/>
<rect x="70.90" y="637.30" width="6.88" height="21.50" fill="#eef6ee" shape-rendering="crispEdges"/>
<rect x="77.73" y="637.30" width="6.88" height="21.50" fill="#cfe8d6" shape-rendering="crispEdges"/>
<rect x="84.55" y="637.30" width="6.88" height="21.50" fill="#cfe8d6" shape-rendering="crispEdges"/>
<rect x="91.38" y="637.30" width="6.88" height="21.50" fill="#cfe8d6" shape-rendering="crispEdges"/>
<rect x="98.21" y="637.30" width="6.88" height="21.50" fill="#0a8a3a" shape-rendering="crispEdges"/>
<rect x="105.03" y="637.30" width="6.88" height="21.50" fill="#d8efdc" shape-rendering="crispEdges"/>
<rect x="111.86" y="637.30" width="6.88" height="21.50" fill="#7cc496" shape-rendering="crispEdges"/>
<rect x="118.68" y="637.30" width="6.88" height="21.50" fill="#b9e0c4" shape-rendering="crispEdges"/>
<rect x="125.51" y="637.30" width="6.88" height="21.50" fill="#b9e0c4" shape-rendering="crispEdges"/>
<rect x="132.34" y="637.30" width="6.88" height="21.50" fill="#e8f5ea" shape-rendering="crispEdges"/>
<rect x="139.16" y="637.30" width="6.88" height="21.50" fill="#9bd2ae" shape-rendering="crispEdges"/>
<rect x="145.99" y="637.30" width="6.88" height="21.50" fill="#cfe9d5" shape-rendering="crispEdges"/>
<rect x="152.81" y="637.30" width="6.88" height="21.50" fill="#a5d6b5" shape-rendering="crispEdges"/>
<rect x="159.64" y="637.30" width="6.88" height="21.50" fill="#e3f3e6" shape-rendering="crispEdges"/>
<rect x="166.46" y="637.30" width="6.88" height="21.50" fill="#d8eedc" shape-rendering="crispEdges"/>
<rect x="173.29" y="637.30" width="6.88" height="21.50" fill="#d4ecda" shape-rendering="crispEdges"/>
<rect x="180.12" y="637.30" width="6.88" height="21.50" fill="#b0dcbe" shape-rendering="crispEdges"/>
<rect x="186.94" y="637.30" width="6.88" height="21.50" fill="#e0f2e4" shape-rendering="crispEdges"/>
<rect x="193.77" y="637.30" width="6.88" height="21.50" fill="#d0ead6" shape-rendering="crispEdges"/>
<rect x="200.59" y="637.30" width="6.88" height="21.50" fill="#6cbc88" shape-rendering="crispEdges"/>
<rect x="207.42" y="637.30" width="6.88" height="21.50" fill="#f0f8f1" shape-rendering="crispEdges"/>
<rect x="214.25" y="637.30" width="6.88" height="21.50" fill="#eef7f0" shape-rendering="crispEdges"/>
<rect x="221.07" y="637.30" width="6.88" height="21.50" fill="#cfe9d6" shape-rendering="crispEdges"/>
<rect x="227.90" y="637.30" width="6.88" height="21.50" fill="#e2f2e5" shape-rendering="crispEdges"/>
<rect x="234.72" y="637.30" width="6.88" height="21.50" fill="#8dca9f" shape-rendering="crispEdges"/>
<rect x="241.55" y="637.30" width="6.88" height="21.50" fill="#e2f2e5" shape-rendering="crispEdges"/>
<rect x="248.37" y="637.30" width="6.88" height="21.50" fill="#d5edd9" shape-rendering="crispEdges"/>
<defs><linearGradient id="fade" x1="0" y1="0" x2="0" y2="1"><stop offset="0" stop-color="#fff" stop-opacity="0"/><stop offset="1" stop-color="#fff" stop-opacity="0.65"/></linearGradient></defs>
<rect x="43.6" y="604" width="211.60" height="11.1" fill="url(#fade)"/>
<rect x="43.6" y="592.6" width="211.60" height="66.20" fill="none" stroke="#3a3a3a" stroke-width="1.3"/>
<text x="49.21" y="588.80" font-size="6.3" text-anchor="start" fill="#d84868" transform="rotate(-90 49.21290322580646 588.8)" stroke="#d84868" stroke-width="0.16">LAML (n = 173)</text>
<text x="56.04" y="588.80" font-size="6.3" text-anchor="start" fill="#262626" transform="rotate(-90 56.03870967741936 588.8)" stroke="#262626" stroke-width="0.16">LGG (n = 518)</text>
<text x="62.86" y="588.80" font-size="6.3" text-anchor="start" fill="#262626" transform="rotate(-90 62.86451612903226 588.8)" stroke="#262626" stroke-width="0.16">ESCA (n = 182)</text>
<text x="69.69" y="588.80" font-size="6.3" text-anchor="start" fill="#262626" transform="rotate(-90 69.69032258064516 588.8)" stroke="#262626" stroke-width="0.16">LUAD (n = 483)</text>
<text x="76.52" y="588.80" font-size="6.3" text-anchor="start" fill="#262626" transform="rotate(-90 76.51612903225806 588.8)" stroke="#262626" stroke-width="0.16">PCPG (n = 182)</text>
<text x="83.34" y="588.80" font-size="6.3" text-anchor="start" fill="#262626" transform="rotate(-90 83.34193548387097 588.8)" stroke="#262626" stroke-width="0.16">PRAD (n = 492)</text>
<text x="90.17" y="588.80" font-size="6.3" text-anchor="start" fill="#262626" transform="rotate(-90 90.16774193548387 588.8)" stroke="#262626" stroke-width="0.16">THCA (n = 512)</text>
<text x="96.99" y="588.80" font-size="6.3" text-anchor="start" fill="#262626" transform="rotate(-90 96.99354838709677 588.8)" stroke="#262626" stroke-width="0.16">BRCA (n = 1085)</text>
<text x="103.82" y="588.80" font-size="6.3" text-anchor="start" fill="#262626" transform="rotate(-90 103.81935483870969 588.8)" stroke="#262626" stroke-width="0.16">KICH (n = 66)</text>
<text x="110.65" y="588.80" font-size="6.3" text-anchor="start" fill="#262626" transform="rotate(-90 110.64516129032258 588.8)" stroke="#262626" stroke-width="0.16">GBM (n = 163)</text>
<text x="117.47" y="588.80" font-size="6.3" text-anchor="start" fill="#262626" transform="rotate(-90 117.4709677419355 588.8)" stroke="#262626" stroke-width="0.16">READ (n = 92)</text>
<text x="124.30" y="588.80" font-size="6.3" text-anchor="start" fill="#262626" transform="rotate(-90 124.29677419354839 588.8)" stroke="#262626" stroke-width="0.16">STAD (n = 408)</text>
<text x="131.12" y="588.80" font-size="6.3" text-anchor="start" fill="#262626" transform="rotate(-90 131.12258064516126 588.8)" stroke="#262626" stroke-width="0.16">CESC (n = 306)</text>
<text x="137.95" y="588.80" font-size="6.3" text-anchor="start" fill="#262626" transform="rotate(-90 137.94838709677418 588.8)" stroke="#262626" stroke-width="0.16">KIRC (n = 523)</text>
<text x="144.77" y="588.80" font-size="6.3" text-anchor="start" fill="#262626" transform="rotate(-90 144.77419354838707 588.8)" stroke="#262626" stroke-width="0.16">COAD (n = 275)</text>
<text x="151.60" y="588.80" font-size="6.3" text-anchor="start" fill="#262626" transform="rotate(-90 151.6 588.8)" stroke="#262626" stroke-width="0.16">CHOL (n = 36)</text>
<text x="158.43" y="588.80" font-size="6.3" text-anchor="start" fill="#262626" transform="rotate(-90 158.42580645161289 588.8)" stroke="#262626" stroke-width="0.16">LUSC (n = 486)</text>
<text x="165.25" y="588.80" font-size="6.3" text-anchor="start" fill="#262626" transform="rotate(-90 165.25161290322578 588.8)" stroke="#262626" stroke-width="0.16">PAAD (n = 179)</text>
<text x="172.08" y="588.80" font-size="6.3" text-anchor="start" fill="#262626" transform="rotate(-90 172.0774193548387 588.8)" stroke="#262626" stroke-width="0.16">UCEC (n = 174)</text>
<text x="178.90" y="588.80" font-size="6.3" text-anchor="start" fill="#262626" transform="rotate(-90 178.9032258064516 588.8)" stroke="#262626" stroke-width="0.16">HNSC (n = 519)</text>
<text x="185.73" y="588.80" font-size="6.3" text-anchor="start" fill="#262626" transform="rotate(-90 185.72903225806448 588.8)" stroke="#262626" stroke-width="0.16">OV (n = 426)</text>
<text x="192.55" y="588.80" font-size="6.3" text-anchor="start" fill="#262626" transform="rotate(-90 192.5548387096774 588.8)" stroke="#262626" stroke-width="0.16">UCS (n = 57)</text>
<text x="199.38" y="588.80" font-size="6.3" text-anchor="start" fill="#262626" transform="rotate(-90 199.3806451612903 588.8)" stroke="#262626" stroke-width="0.16">BLCA (n = 404)</text>
<text x="206.21" y="588.80" font-size="6.3" text-anchor="start" fill="#262626" transform="rotate(-90 206.2064516129032 588.8)" stroke="#262626" stroke-width="0.16">KIRP (n = 286)</text>
<text x="213.03" y="588.80" font-size="6.3" text-anchor="start" fill="#262626" transform="rotate(-90 213.0322580645161 588.8)" stroke="#262626" stroke-width="0.16">THYM (n = 118)</text>
<text x="219.86" y="588.80" font-size="6.3" text-anchor="start" fill="#262626" transform="rotate(-90 219.858064516129 588.8)" stroke="#262626" stroke-width="0.16">SARC (n = 262)</text>
<text x="226.68" y="588.80" font-size="6.3" text-anchor="start" fill="#262626" transform="rotate(-90 226.6838709677419 588.8)" stroke="#262626" stroke-width="0.16">DLBC (n = 47)</text>
<text x="233.51" y="588.80" font-size="6.3" text-anchor="start" fill="#262626" transform="rotate(-90 233.5096774193548 588.8)" stroke="#262626" stroke-width="0.16">SKCM (n = 461)</text>
<text x="240.34" y="588.80" font-size="6.3" text-anchor="start" fill="#262626" transform="rotate(-90 240.33548387096772 588.8)" stroke="#262626" stroke-width="0.16">TGCT (n = 137)</text>
<text x="247.16" y="588.80" font-size="6.3" text-anchor="start" fill="#262626" transform="rotate(-90 247.1612903225806 588.8)" stroke="#262626" stroke-width="0.16">ACC (n = 77)</text>
<text x="253.99" y="588.80" font-size="6.3" text-anchor="start" fill="#262626" transform="rotate(-90 253.9870967741935 588.8)" stroke="#262626" stroke-width="0.16">LIHC (n = 369)</text>
<text x="40.80" y="606.00" font-size="6.6" text-anchor="end" fill="#262626" font-style="italic" stroke="#262626" stroke-width="0.16">ZDHHC1</text>
<text x="40.80" y="628.20" font-size="6.6" text-anchor="end" fill="#262626" font-style="italic" stroke="#262626" stroke-width="0.16">ZDHHC21</text>
<text x="40.80" y="649.70" font-size="6.6" text-anchor="end" fill="#262626" font-style="italic" stroke="#262626" stroke-width="0.16">ZDHHC23</text>
<defs><linearGradient id="gt" x1="0" x2="1"><stop offset="0" stop-color="#b2a272"/><stop offset="0.5" stop-color="#d8d0b0"/><stop offset="1" stop-color="#fbfaf5"/></linearGradient><linearGradient id="gb" x1="0" x2="1"><stop offset="0" stop-color="#1a5c9c"/><stop offset="0.5" stop-color="#5fa2d4"/><stop offset="1" stop-color="#f2f7fb"/></linearGradient><linearGradient id="gg" x1="0" x2="1"><stop offset="0" stop-color="#0c7a2e"/><stop offset="0.5" stop-color="#6cbc84"/><stop offset="1" stop-color="#f3f9f4"/></linearGradient></defs>
<rect x="74.2" y="674.7" width="39.6" height="3.9" fill="url(#gt)" stroke="#c8c8c8" stroke-width="0.4"/>
<rect x="133" y="674.7" width="39.8" height="3.9" fill="url(#gb)" stroke="#c8c8c8" stroke-width="0.4"/>
<rect x="193.5" y="674.7" width="39" height="3.9" fill="url(#gg)" stroke="#c8c8c8" stroke-width="0.4"/>
<text x="65.40" y="678.60" font-size="6.2" text-anchor="middle" fill="#262626" stroke="#262626" stroke-width="0.16">TPM</text>
<text x="82.20" y="671.90" font-size="6.2" text-anchor="middle" fill="#262626" stroke="#262626" stroke-width="0.16">30</text>
<text x="92.60" y="671.90" font-size="6.2" text-anchor="middle" fill="#262626" stroke="#262626" stroke-width="0.16">20</text>
<text x="102.80" y="671.90" font-size="6.2" text-anchor="middle" fill="#262626" stroke="#262626" stroke-width="0.16">10</text>
<text x="113.40" y="671.90" font-size="6.2" text-anchor="middle" fill="#262626" stroke="#262626" stroke-width="0.16">0</text>
<text x="142.50" y="671.90" font-size="6.2" text-anchor="middle" fill="#262626" stroke="#262626" stroke-width="0.16">6</text>
<text x="152.30" y="671.90" font-size="6.2" text-anchor="middle" fill="#262626" stroke="#262626" stroke-width="0.16">4</text>
<text x="162.40" y="671.90" font-size="6.2" text-anchor="middle" fill="#262626" stroke="#262626" stroke-width="0.16">2</text>
<text x="171.90" y="671.90" font-size="6.2" text-anchor="middle" fill="#262626" stroke="#262626" stroke-width="0.16">0</text>
<text x="196.40" y="671.90" font-size="6.2" text-anchor="middle" fill="#262626" stroke="#262626" stroke-width="0.16">15</text>
<text x="208.80" y="671.90" font-size="6.2" text-anchor="middle" fill="#262626" stroke="#262626" stroke-width="0.16">10</text>
<text x="220.40" y="671.90" font-size="6.2" text-anchor="middle" fill="#262626" stroke="#262626" stroke-width="0.16">5</text>
<text x="231.90" y="671.90" font-size="6.2" text-anchor="middle" fill="#262626" stroke="#262626" stroke-width="0.16">0</text>
<text x="271.80" y="541.60" font-size="11.3" text-anchor="start" fill="#111" font-weight="bold" stroke="#111" stroke-width="0.35">J</text>
<line x1="336.65" y1="548.00" x2="336.65" y2="653.50" stroke="#5a9c5a" stroke-width="0.95" stroke-dasharray="5,3.4"/>
<text x="336.65" y="541.20" font-size="6.8" text-anchor="middle" fill="#262626" stroke="#262626" stroke-width="0.16">Oligo</text>
<line x1="376.54" y1="548.00" x2="376.54" y2="653.50" stroke="#5a9c5a" stroke-width="0.95" stroke-dasharray="5,3.4"/>
<text x="376.54" y="541.20" font-size="6.8" text-anchor="middle" fill="#262626" stroke="#262626" stroke-width="0.16">FCCP</text>
<line x1="416.85" y1="548.00" x2="416.85" y2="653.50" stroke="#5a9c5a" stroke-width="0.95" stroke-dasharray="5,3.4"/>
<text x="416.85" y="541.20" font-size="6.8" text-anchor="middle" fill="#262626" stroke="#262626" stroke-width="0.16">Rot+AA</text>
<line x1="307.50" y1="544.50" x2="307.50" y2="654.00" stroke="#2a2a2a" stroke-width="1.1"/>
<line x1="307.00" y1="653.50" x2="475.76" y2="653.50" stroke="#2a2a2a" stroke-width="1.1"/>
<line x1="304.30" y1="653.50" x2="307.50" y2="653.50" stroke="#2a2a2a" stroke-width="1.0"/>
<text x="301.30" y="655.90" font-size="6.9" text-anchor="end" fill="#262626" stroke="#262626" stroke-width="0.16">0</text>
<line x1="304.30" y1="626.70" x2="307.50" y2="626.70" stroke="#2a2a2a" stroke-width="1.0"/>
<text x="301.30" y="629.10" font-size="6.9" text-anchor="end" fill="#262626" stroke="#262626" stroke-width="0.16">100</text>
<line x1="304.30" y1="599.90" x2="307.50" y2="599.90" stroke="#2a2a2a" stroke-width="1.0"/>
<text x="301.30" y="602.30" font-size="6.9" text-anchor="end" fill="#262626" stroke="#262626" stroke-width="0.16">200</text>
<line x1="304.30" y1="573.10" x2="307.50" y2="573.10" stroke="#2a2a2a" stroke-width="1.0"/>
<text x="301.30" y="575.50" font-size="6.9" text-anchor="end" fill="#262626" stroke="#262626" stroke-width="0.16">300</text>
<line x1="304.30" y1="546.30" x2="307.50" y2="546.30" stroke="#2a2a2a" stroke-width="1.0"/>
<text x="301.30" y="548.70" font-size="6.9" text-anchor="end" fill="#262626" stroke="#262626" stroke-width="0.16">400</text>
<line x1="307.30" y1="653.50" x2="307.30" y2="656.00" stroke="#2a2a2a" stroke-width="0.9"/>
<text x="307.30" y="665.20" font-size="6.6" text-anchor="middle" fill="#262626" stroke="#262626" stroke-width="0.16">0</text>
<line x1="348.64" y1="653.50" x2="348.64" y2="656.00" stroke="#2a2a2a" stroke-width="0.9"/>
<text x="348.64" y="665.20" font-size="6.6" text-anchor="middle" fill="#262626" stroke="#262626" stroke-width="0.16">20</text>
<line x1="389.98" y1="653.50" x2="389.98" y2="656.00" stroke="#2a2a2a" stroke-width="0.9"/>
<text x="389.98" y="665.20" font-size="6.6" text-anchor="middle" fill="#262626" stroke="#262626" stroke-width="0.16">40</text>
<line x1="431.32" y1="653.50" x2="431.32" y2="656.00" stroke="#2a2a2a" stroke-width="0.9"/>
<text x="431.32" y="665.20" font-size="6.6" text-anchor="middle" fill="#262626" stroke="#262626" stroke-width="0.16">60</text>
<line x1="472.66" y1="653.50" x2="472.66" y2="656.00" stroke="#2a2a2a" stroke-width="0.9"/>
<text x="472.66" y="665.20" font-size="6.6" text-anchor="middle" fill="#262626" stroke="#262626" stroke-width="0.16">80</text>
<text x="392.20" y="676.70" font-size="7.2" text-anchor="middle" fill="#262626" stroke="#262626" stroke-width="0.16">Time (minutes)</text>
<text x="284.20" y="599.40" font-size="7.0" text-anchor="middle" fill="#262626" transform="rotate(-90 284.2 599.4)" textLength="49.5" lengthAdjust="spacingAndGlyphs" stroke="#262626" stroke-width="0.16">OCR (pmol/min)</text>
<polyline points="309.57,615.44 322.97,615.98 336.36,615.44 349.76,632.33 363.15,636.08 376.54,636.08 389.94,568.28 403.33,585.70 416.73,597.76 430.12,639.56 443.52,640.10 456.91,640.10" fill="none" stroke="#9484c6" stroke-width="1.1"/>
<line x1="309.57" y1="614.37" x2="309.57" y2="616.52" stroke="#9484c6" stroke-width="0.8"/>
<line x1="308.27" y1="614.37" x2="310.87" y2="614.37" stroke="#9484c6" stroke-width="0.8"/>
<line x1="308.27" y1="616.52" x2="310.87" y2="616.52" stroke="#9484c6" stroke-width="0.8"/>
<circle cx="309.57" cy="615.44" r="1.85" fill="#9484c6" stroke="none" stroke-width="0.8"/>
<line x1="322.97" y1="614.91" x2="322.97" y2="617.05" stroke="#9484c6" stroke-width="0.8"/>
<line x1="321.67" y1="614.91" x2="324.27" y2="614.91" stroke="#9484c6" stroke-width="0.8"/>
<line x1="321.67" y1="617.05" x2="324.27" y2="617.05" stroke="#9484c6" stroke-width="0.8"/>
<circle cx="322.97" cy="615.98" r="1.85" fill="#9484c6" stroke="none" stroke-width="0.8"/>
<line x1="336.36" y1="614.37" x2="336.36" y2="616.52" stroke="#9484c6" stroke-width="0.8"/>
<line x1="335.06" y1="614.37" x2="337.66" y2="614.37" stroke="#9484c6" stroke-width="0.8"/>
<line x1="335.06" y1="616.52" x2="337.66" y2="616.52" stroke="#9484c6" stroke-width="0.8"/>
<circle cx="336.36" cy="615.44" r="1.85" fill="#9484c6" stroke="none" stroke-width="0.8"/>
<circle cx="349.76" cy="632.33" r="1.85" fill="#9484c6" stroke="none" stroke-width="0.8"/>
<circle cx="363.15" cy="636.08" r="1.85" fill="#9484c6" stroke="none" stroke-width="0.8"/>
<circle cx="376.54" cy="636.08" r="1.85" fill="#9484c6" stroke="none" stroke-width="0.8"/>
<line x1="389.94" y1="562.92" x2="389.94" y2="573.64" stroke="#9484c6" stroke-width="0.8"/>
<line x1="388.64" y1="562.92" x2="391.24" y2="562.92" stroke="#9484c6" stroke-width="0.8"/>
<line x1="388.64" y1="573.64" x2="391.24" y2="573.64" stroke="#9484c6" stroke-width="0.8"/>
<circle cx="389.94" cy="568.28" r="1.85" fill="#9484c6" stroke="none" stroke-width="0.8"/>
<line x1="403.33" y1="581.68" x2="403.33" y2="589.72" stroke="#9484c6" stroke-width="0.8"/>
<line x1="402.03" y1="581.68" x2="404.63" y2="581.68" stroke="#9484c6" stroke-width="0.8"/>
<line x1="402.03" y1="589.72" x2="404.63" y2="589.72" stroke="#9484c6" stroke-width="0.8"/>
<circle cx="403.33" cy="585.70" r="1.85" fill="#9484c6" stroke="none" stroke-width="0.8"/>
<line x1="416.73" y1="594.54" x2="416.73" y2="600.97" stroke="#9484c6" stroke-width="0.8"/>
<line x1="415.43" y1="594.54" x2="418.03" y2="594.54" stroke="#9484c6" stroke-width="0.8"/>
<line x1="415.43" y1="600.97" x2="418.03" y2="600.97" stroke="#9484c6" stroke-width="0.8"/>
<circle cx="416.73" cy="597.76" r="1.85" fill="#9484c6" stroke="none" stroke-width="0.8"/>
<circle cx="430.12" cy="639.56" r="1.85" fill="#9484c6" stroke="none" stroke-width="0.8"/>
<circle cx="443.52" cy="640.10" r="1.85" fill="#9484c6" stroke="none" stroke-width="0.8"/>
<circle cx="456.91" cy="640.10" r="1.85" fill="#9484c6" stroke="none" stroke-width="0.8"/>
<polyline points="309.57,631.79 322.97,632.60 336.36,632.60 349.76,642.78 363.15,643.32 376.54,643.32 389.94,605.80 403.33,609.28 416.73,612.76 430.12,644.12 443.52,644.39 456.91,644.39" fill="none" stroke="#35a6da" stroke-width="1.1"/>
<line x1="309.57" y1="628.04" x2="309.57" y2="635.54" stroke="#35a6da" stroke-width="0.8"/>
<line x1="308.27" y1="628.04" x2="310.87" y2="628.04" stroke="#35a6da" stroke-width="0.8"/>
<line x1="308.27" y1="635.54" x2="310.87" y2="635.54" stroke="#35a6da" stroke-width="0.8"/>
<circle cx="309.57" cy="631.79" r="1.85" fill="#35a6da" stroke="none" stroke-width="0.8"/>
<line x1="322.97" y1="628.84" x2="322.97" y2="636.35" stroke="#35a6da" stroke-width="0.8"/>
<line x1="321.67" y1="628.84" x2="324.27" y2="628.84" stroke="#35a6da" stroke-width="0.8"/>
<line x1="321.67" y1="636.35" x2="324.27" y2="636.35" stroke="#35a6da" stroke-width="0.8"/>
<circle cx="322.97" cy="632.60" r="1.85" fill="#35a6da" stroke="none" stroke-width="0.8"/>
<line x1="336.36" y1="628.84" x2="336.36" y2="636.35" stroke="#35a6da" stroke-width="0.8"/>
<line x1="335.06" y1="628.84" x2="337.66" y2="628.84" stroke="#35a6da" stroke-width="0.8"/>
<line x1="335.06" y1="636.35" x2="337.66" y2="636.35" stroke="#35a6da" stroke-width="0.8"/>
<circle cx="336.36" cy="632.60" r="1.85" fill="#35a6da" stroke="none" stroke-width="0.8"/>
<circle cx="349.76" cy="642.78" r="1.85" fill="#35a6da" stroke="none" stroke-width="0.8"/>
<circle cx="363.15" cy="643.32" r="1.85" fill="#35a6da" stroke="none" stroke-width="0.8"/>
<circle cx="376.54" cy="643.32" r="1.85" fill="#35a6da" stroke="none" stroke-width="0.8"/>
<line x1="389.94" y1="599.10" x2="389.94" y2="612.50" stroke="#35a6da" stroke-width="0.8"/>
<line x1="388.64" y1="599.10" x2="391.24" y2="599.10" stroke="#35a6da" stroke-width="0.8"/>
<line x1="388.64" y1="612.50" x2="391.24" y2="612.50" stroke="#35a6da" stroke-width="0.8"/>
<circle cx="389.94" cy="605.80" r="1.85" fill="#35a6da" stroke="none" stroke-width="0.8"/>
<line x1="403.33" y1="603.92" x2="403.33" y2="614.64" stroke="#35a6da" stroke-width="0.8"/>
<line x1="402.03" y1="603.92" x2="404.63" y2="603.92" stroke="#35a6da" stroke-width="0.8"/>
<line x1="402.03" y1="614.64" x2="404.63" y2="614.64" stroke="#35a6da" stroke-width="0.8"/>
<circle cx="403.33" cy="609.28" r="1.85" fill="#35a6da" stroke="none" stroke-width="0.8"/>
<line x1="416.73" y1="608.74" x2="416.73" y2="616.78" stroke="#35a6da" stroke-width="0.8"/>
<line x1="415.43" y1="608.74" x2="418.03" y2="608.74" stroke="#35a6da" stroke-width="0.8"/>
<line x1="415.43" y1="616.78" x2="418.03" y2="616.78" stroke="#35a6da" stroke-width="0.8"/>
<circle cx="416.73" cy="612.76" r="1.85" fill="#35a6da" stroke="none" stroke-width="0.8"/>
<circle cx="430.12" cy="644.12" r="1.85" fill="#35a6da" stroke="none" stroke-width="0.8"/>
<circle cx="443.52" cy="644.39" r="1.85" fill="#35a6da" stroke="none" stroke-width="0.8"/>
<circle cx="456.91" cy="644.39" r="1.85" fill="#35a6da" stroke="none" stroke-width="0.8"/>
<polyline points="309.57,635.28 322.97,635.28 336.36,635.81 349.76,643.32 363.15,643.58 376.54,643.58 389.94,611.69 403.33,613.57 416.73,615.44 430.12,644.12 443.52,644.66 456.91,644.66" fill="none" stroke="#1b3f72" stroke-width="1.1"/>
<line x1="309.57" y1="633.67" x2="309.57" y2="636.88" stroke="#1b3f72" stroke-width="0.8"/>
<line x1="308.27" y1="633.67" x2="310.87" y2="633.67" stroke="#1b3f72" stroke-width="0.8"/>
<line x1="308.27" y1="636.88" x2="310.87" y2="636.88" stroke="#1b3f72" stroke-width="0.8"/>
<circle cx="309.57" cy="635.28" r="1.85" fill="#1b3f72" stroke="none" stroke-width="0.8"/>
<line x1="322.97" y1="633.67" x2="322.97" y2="636.88" stroke="#1b3f72" stroke-width="0.8"/>
<line x1="321.67" y1="633.67" x2="324.27" y2="633.67" stroke="#1b3f72" stroke-width="0.8"/>
<line x1="321.67" y1="636.88" x2="324.27" y2="636.88" stroke="#1b3f72" stroke-width="0.8"/>
<circle cx="322.97" cy="635.28" r="1.85" fill="#1b3f72" stroke="none" stroke-width="0.8"/>
<line x1="336.36" y1="634.20" x2="336.36" y2="637.42" stroke="#1b3f72" stroke-width="0.8"/>
<line x1="335.06" y1="634.20" x2="337.66" y2="634.20" stroke="#1b3f72" stroke-width="0.8"/>
<line x1="335.06" y1="637.42" x2="337.66" y2="637.42" stroke="#1b3f72" stroke-width="0.8"/>
<circle cx="336.36" cy="635.81" r="1.85" fill="#1b3f72" stroke="none" stroke-width="0.8"/>
<circle cx="349.76" cy="643.32" r="1.85" fill="#1b3f72" stroke="none" stroke-width="0.8"/>
<circle cx="363.15" cy="643.58" r="1.85" fill="#1b3f72" stroke="none" stroke-width="0.8"/>
<circle cx="376.54" cy="643.58" r="1.85" fill="#1b3f72" stroke="none" stroke-width="0.8"/>
<line x1="389.94" y1="607.67" x2="389.94" y2="615.71" stroke="#1b3f72" stroke-width="0.8"/>
<line x1="388.64" y1="607.67" x2="391.24" y2="607.67" stroke="#1b3f72" stroke-width="0.8"/>
<line x1="388.64" y1="615.71" x2="391.24" y2="615.71" stroke="#1b3f72" stroke-width="0.8"/>
<circle cx="389.94" cy="611.69" r="1.85" fill="#1b3f72" stroke="none" stroke-width="0.8"/>
<line x1="403.33" y1="610.35" x2="403.33" y2="616.78" stroke="#1b3f72" stroke-width="0.8"/>
<line x1="402.03" y1="610.35" x2="404.63" y2="610.35" stroke="#1b3f72" stroke-width="0.8"/>
<line x1="402.03" y1="616.78" x2="404.63" y2="616.78" stroke="#1b3f72" stroke-width="0.8"/>
<circle cx="403.33" cy="613.57" r="1.85" fill="#1b3f72" stroke="none" stroke-width="0.8"/>
<line x1="416.73" y1="612.76" x2="416.73" y2="618.12" stroke="#1b3f72" stroke-width="0.8"/>
<line x1="415.43" y1="612.76" x2="418.03" y2="612.76" stroke="#1b3f72" stroke-width="0.8"/>
<line x1="415.43" y1="618.12" x2="418.03" y2="618.12" stroke="#1b3f72" stroke-width="0.8"/>
<circle cx="416.73" cy="615.44" r="1.85" fill="#1b3f72" stroke="none" stroke-width="0.8"/>
<circle cx="430.12" cy="644.12" r="1.85" fill="#1b3f72" stroke="none" stroke-width="0.8"/>
<circle cx="443.52" cy="644.66" r="1.85" fill="#1b3f72" stroke="none" stroke-width="0.8"/>
<circle cx="456.91" cy="644.66" r="1.85" fill="#1b3f72" stroke="none" stroke-width="0.8"/>
<line x1="456.50" y1="588.50" x2="466.60" y2="588.50" stroke="#9484c6" stroke-width="1.1"/>
<circle cx="461.50" cy="588.50" r="1.75" fill="#9484c6" stroke="none" stroke-width="0.8"/>
<text x="471.00" y="590.70" font-size="6.1" text-anchor="start" fill="#262626" stroke="#262626" stroke-width="0.16">shCtrl</text>
<line x1="456.50" y1="598.55" x2="466.60" y2="598.55" stroke="#1b3f72" stroke-width="1.1"/>
<circle cx="461.50" cy="598.55" r="1.75" fill="#1b3f72" stroke="none" stroke-width="0.8"/>
<text x="471.00" y="600.75" font-size="6.1" text-anchor="start" fill="#262626" stroke="#262626" stroke-width="0.16">shZDHHC21 #1</text>
<line x1="456.50" y1="608.60" x2="466.60" y2="608.60" stroke="#35a6da" stroke-width="1.1"/>
<circle cx="461.50" cy="608.60" r="1.75" fill="#35a6da" stroke="none" stroke-width="0.8"/>
<text x="471.00" y="610.80" font-size="6.1" text-anchor="start" fill="#262626" stroke="#262626" stroke-width="0.16">shZDHHC21 #2</text>
<rect x="0.00" y="0.00" width="1.05" height="687.00" fill="#575757"/>
<rect x="0.00" y="0.00" width="520.00" height="1.05" fill="#5a5a5a"/>
<rect x="518.90" y="0.00" width="1.10" height="687.00" fill="#7c7c7c"/>
<rect x="0.00" y="685.70" width="520.00" height="1.30" fill="#5a5a5a"/>
</svg></body></html>
